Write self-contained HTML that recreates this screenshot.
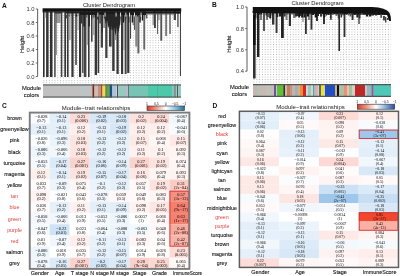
<!DOCTYPE html>
<html><head><meta charset="utf-8"><style>
html,body{margin:0;padding:0;background:#fff;width:400px;height:276px;overflow:hidden;}
svg{display:block;font-family:"Liberation Sans", sans-serif;will-change:transform;}
</style></head><body>
<svg width="400" height="276" viewBox="0 0 400 276" font-family='"Liberation Sans", sans-serif'>
<rect x="0.00" y="0.00" width="400.00" height="276.00" fill="#ffffff" />
<text x="2.00" y="7.90" font-size="6.6" text-anchor="start" fill="#111" font-weight="bold" >A</text>
<text x="109.00" y="6.70" font-size="5.8" text-anchor="middle" fill="#222" font-weight="normal" >Cluster Dendrogram</text>
<line x1="37.60" y1="9.00" x2="37.60" y2="76.50" stroke="#6a6a6a" stroke-width="1.1"/>
<line x1="35.80" y1="9.00" x2="37.60" y2="9.00" stroke="#555" stroke-width="0.9"/>
<text x="34.60" y="11.10" font-size="5.8" text-anchor="end" fill="#333" font-weight="normal" >1.0</text>
<line x1="35.80" y1="22.50" x2="37.60" y2="22.50" stroke="#555" stroke-width="0.9"/>
<text x="34.60" y="24.60" font-size="5.8" text-anchor="end" fill="#333" font-weight="normal" >0.8</text>
<line x1="35.80" y1="36.00" x2="37.60" y2="36.00" stroke="#555" stroke-width="0.9"/>
<text x="34.60" y="38.10" font-size="5.8" text-anchor="end" fill="#333" font-weight="normal" >0.6</text>
<line x1="35.80" y1="49.50" x2="37.60" y2="49.50" stroke="#555" stroke-width="0.9"/>
<text x="34.60" y="51.60" font-size="5.8" text-anchor="end" fill="#333" font-weight="normal" >0.4</text>
<line x1="35.80" y1="63.00" x2="37.60" y2="63.00" stroke="#555" stroke-width="0.9"/>
<text x="34.60" y="65.10" font-size="5.8" text-anchor="end" fill="#333" font-weight="normal" >0.2</text>
<line x1="35.80" y1="76.50" x2="37.60" y2="76.50" stroke="#555" stroke-width="0.9"/>
<text x="34.60" y="78.60" font-size="5.8" text-anchor="end" fill="#333" font-weight="normal" >0.0</text>
<text x="24.0" y="44.4" font-size="5.9" text-anchor="middle" fill="#222" stroke="#222" stroke-width="0.12" transform="rotate(-90 24.0 44.4)">Height</text>
<pattern id="p18" x="43.30" y="12.40" width="2.8" height="2.5" patternUnits="userSpaceOnUse"><rect x="0" y="0" width="0.9" height="0.9" fill="#b4b4b4"/></pattern>
<rect x="43.00" y="12.00" width="138.00" height="72.00" fill="url(#p18)" />
<rect x="43.00" y="10.00" width="1.60" height="67.00" fill="#303030" />
<rect x="44.80" y="10.00" width="1.20" height="8.00" fill="#bbb" />
<rect x="46.10" y="10.00" width="2.50" height="67.00" fill="#363636" />
<rect x="50.00" y="10.00" width="2.50" height="67.00" fill="#303030" />
<rect x="54.00" y="10.00" width="1.80" height="67.00" fill="#666" />
<rect x="56.20" y="10.00" width="4.20" height="13.00" fill="#999" />
<rect x="55.80" y="10.00" width="0.80" height="45.00" fill="#555" />
<rect x="60.80" y="10.00" width="1.60" height="67.00" fill="#444" />
<rect x="64.30" y="10.00" width="1.70" height="67.00" fill="#363636" />
<rect x="67.00" y="10.00" width="1.60" height="67.00" fill="#3a3a3a" />
<rect x="69.20" y="10.00" width="1.40" height="30.00" fill="#999" />
<rect x="71.40" y="10.00" width="2.20" height="67.00" fill="#363636" />
<rect x="75.20" y="10.00" width="1.60" height="55.00" fill="#444" />
<rect x="77.40" y="10.00" width="1.20" height="20.00" fill="#aaa" />
<rect x="79.00" y="10.00" width="2.20" height="67.00" fill="#363636" />
<rect x="82.00" y="10.00" width="1.60" height="63.00" fill="#555" />
<rect x="83.80" y="10.00" width="2.60" height="67.00" fill="#444" />
<rect x="86.60" y="10.00" width="1.20" height="35.00" fill="#999" />
<rect x="88.00" y="10.00" width="1.60" height="67.00" fill="#3a3a3a" />
<rect x="91.00" y="10.00" width="1.60" height="31.70" fill="#444" />
<rect x="92.80" y="10.00" width="1.60" height="25.00" fill="#aaa" />
<rect x="94.70" y="10.00" width="2.30" height="65.00" fill="#363636" />
<rect x="97.60" y="10.00" width="1.60" height="63.00" fill="#3a3a3a" />
<rect x="100.70" y="10.00" width="2.30" height="37.60" fill="#444" />
<rect x="103.20" y="10.00" width="1.80" height="18.00" fill="#999" />
<rect x="105.20" y="10.00" width="2.30" height="48.00" fill="#444" />
<rect x="109.00" y="10.00" width="2.60" height="36.60" fill="#3a3a3a" />
<rect x="112.20" y="10.00" width="2.40" height="61.00" fill="#363636" />
<rect x="115.00" y="10.00" width="1.20" height="30.00" fill="#999" />
<rect x="116.50" y="10.00" width="2.20" height="64.00" fill="#363636" />
<rect x="119.20" y="10.00" width="1.40" height="15.00" fill="#aaa" />
<rect x="121.00" y="10.00" width="2.20" height="64.00" fill="#3a3a3a" />
<rect x="123.40" y="10.00" width="1.00" height="40.00" fill="#999" />
<rect x="124.70" y="10.00" width="1.90" height="64.00" fill="#444" />
<rect x="127.20" y="10.00" width="2.20" height="63.00" fill="#363636" />
<rect x="130.00" y="10.00" width="1.10" height="28.80" fill="#444" />
<rect x="131.10" y="10.00" width="1.50" height="4.00" fill="#555" />
<rect x="132.60" y="10.00" width="1.50" height="15.00" fill="#888" />
<rect x="134.10" y="10.00" width="1.15" height="20.00" fill="#444" />
<rect x="135.25" y="10.00" width="2.15" height="36.60" fill="#888" />
<rect x="137.40" y="10.00" width="2.00" height="43.40" fill="#666" />
<rect x="140.10" y="10.00" width="1.15" height="10.00" fill="#888" />
<rect x="143.30" y="10.00" width="1.90" height="39.50" fill="#666" />
<rect x="152.50" y="10.00" width="1.50" height="15.00" fill="#999" />
<rect x="154.00" y="10.00" width="1.90" height="18.00" fill="#444" />
<rect x="157.00" y="10.00" width="1.10" height="24.00" fill="#666" />
<rect x="158.10" y="10.00" width="1.50" height="10.00" fill="#999" />
<rect x="160.30" y="10.00" width="1.90" height="30.70" fill="#555" />
<rect x="165.20" y="10.00" width="1.90" height="26.00" fill="#777" />
<rect x="169.00" y="10.00" width="2.00" height="24.00" fill="#888" />
<rect x="173.70" y="10.00" width="2.30" height="10.00" fill="#444" />
<rect x="177.00" y="10.00" width="1.80" height="17.00" fill="#777" />
<rect x="179.90" y="10.00" width="1.10" height="66.00" fill="#444" />
<rect x="42.60" y="8.30" width="138.60" height="3.40" fill="#111" />
<rect x="42.60" y="11.50" width="88.00" height="1.00" fill="#2a2a2a" />
<rect x="130.00" y="11.50" width="51.00" height="2.20" fill="#1a1a1a" />
<rect x="145.00" y="13.50" width="30.00" height="1.00" fill="#555" />
<rect x="66.00" y="11.50" width="14.00" height="2.00" fill="#222" />
<rect x="80.00" y="11.50" width="66.00" height="3.50" fill="#1a1a1a" />
<rect x="55.00" y="11.50" width="7.00" height="2.00" fill="#333" />
<rect x="66.00" y="14.50" width="1.31" height="4.00" fill="#555" />
<rect x="68.31" y="14.50" width="1.43" height="2.00" fill="#555" />
<rect x="70.87" y="14.50" width="1.61" height="1.00" fill="#555" />
<rect x="73.29" y="14.50" width="0.98" height="1.00" fill="#555" />
<rect x="75.74" y="14.50" width="1.49" height="2.00" fill="#1a1a1a" />
<rect x="78.56" y="14.50" width="0.96" height="1.00" fill="#222" />
<rect x="80.89" y="14.50" width="1.44" height="9.00" fill="#333" />
<rect x="83.27" y="14.50" width="1.66" height="12.00" fill="#222" />
<rect x="86.07" y="14.50" width="1.35" height="3.00" fill="#555" />
<rect x="88.58" y="14.50" width="1.27" height="12.00" fill="#1a1a1a" />
<rect x="91.05" y="14.50" width="1.18" height="5.00" fill="#333" />
<rect x="92.76" y="14.50" width="1.41" height="3.00" fill="#555" />
<rect x="94.78" y="14.50" width="1.16" height="3.00" fill="#1a1a1a" />
<rect x="97.29" y="14.50" width="0.90" height="5.00" fill="#1a1a1a" />
<rect x="99.16" y="14.50" width="1.78" height="9.00" fill="#555" />
<rect x="101.51" y="14.50" width="1.47" height="18.00" fill="#333" />
<rect x="103.82" y="14.50" width="1.18" height="4.00" fill="#555" />
<rect x="106.26" y="14.50" width="1.01" height="6.00" fill="#1a1a1a" />
<rect x="107.77" y="14.50" width="1.32" height="12.00" fill="#222" />
<rect x="110.27" y="14.50" width="1.07" height="15.00" fill="#222" />
<rect x="112.83" y="14.50" width="1.59" height="12.00" fill="#555" />
<rect x="115.04" y="14.50" width="1.28" height="6.00" fill="#1a1a1a" />
<rect x="117.09" y="14.50" width="1.77" height="15.00" fill="#333" />
<rect x="120.36" y="14.50" width="0.92" height="2.00" fill="#555" />
<rect x="122.77" y="14.50" width="1.44" height="8.00" fill="#1a1a1a" />
<rect x="124.75" y="14.50" width="1.03" height="6.00" fill="#333" />
<rect x="126.30" y="14.50" width="1.45" height="4.00" fill="#555" />
<rect x="128.32" y="14.50" width="0.98" height="8.00" fill="#222" />
<rect x="129.82" y="14.50" width="1.23" height="8.00" fill="#555" />
<rect x="131.67" y="14.50" width="1.43" height="8.00" fill="#222" />
<rect x="134.47" y="14.50" width="1.06" height="2.00" fill="#333" />
<rect x="136.94" y="14.50" width="1.64" height="2.00" fill="#222" />
<rect x="139.24" y="14.50" width="1.47" height="8.00" fill="#222" />
<rect x="141.89" y="14.50" width="1.25" height="6.00" fill="#1a1a1a" />
<rect x="144.06" y="14.50" width="0.99" height="1.00" fill="#333" />
<rect x="145.79" y="14.50" width="1.53" height="4.00" fill="#555" />
<path d="M104,14 L121,14 L120,24 L118.5,33 L117,26 L115.5,36 L114,27 L112,31 L110.5,22 L109,29 L107,20 L105.5,24 Z" fill="#262626"/>
<rect x="97.40" y="12.60" width="0.90" height="4.00" fill="#f0f0f0" />
<rect x="104.60" y="12.60" width="0.90" height="4.00" fill="#f0f0f0" />
<rect x="115.60" y="12.60" width="0.90" height="4.00" fill="#f0f0f0" />
<rect x="120.00" y="12.60" width="0.90" height="4.00" fill="#f0f0f0" />
<rect x="125.40" y="12.60" width="0.90" height="4.00" fill="#f0f0f0" />
<rect x="129.00" y="12.60" width="0.90" height="4.00" fill="#f0f0f0" />
<rect x="134.00" y="12.60" width="0.90" height="4.00" fill="#f0f0f0" />
<rect x="140.60" y="12.60" width="0.90" height="4.00" fill="#f0f0f0" />
<text x="31.50" y="90.00" font-size="5.8" text-anchor="middle" fill="#151515" font-weight="normal" stroke="#151515" stroke-width="0.1">Module</text>
<text x="31.50" y="96.70" font-size="5.8" text-anchor="middle" fill="#151515" font-weight="normal" stroke="#151515" stroke-width="0.1">colors</text>
<rect x="43.00" y="84.40" width="138.00" height="13.20" fill="#c0c0c0" />
<rect x="43.00" y="84.40" width="37.00" height="13.20" fill="#c0c0c0" />
<rect x="80.00" y="84.40" width="11.00" height="13.20" fill="#bcc4c4" />
<rect x="91.00" y="84.40" width="1.40" height="13.20" fill="#c8b8b8" />
<rect x="92.40" y="84.40" width="2.00" height="13.20" fill="#a33a28" />
<rect x="93.40" y="84.40" width="0.60" height="13.20" fill="#701810" />
<rect x="94.40" y="84.40" width="3.60" height="13.20" fill="#c4c0b8" />
<rect x="98.00" y="84.40" width="3.00" height="13.20" fill="#d48a80" />
<rect x="101.00" y="84.40" width="1.40" height="13.20" fill="#a05030" />
<rect x="102.40" y="84.40" width="3.20" height="13.20" fill="#f0d848" />
<rect x="105.60" y="84.40" width="1.00" height="13.20" fill="#304848" />
<rect x="106.60" y="84.40" width="3.00" height="13.20" fill="#58a840" />
<rect x="109.60" y="84.40" width="2.80" height="13.20" fill="#204c88" />
<rect x="112.40" y="84.40" width="1.00" height="13.20" fill="#d0d8e0" />
<rect x="113.40" y="84.40" width="2.60" height="13.20" fill="#a8c0e0" />
<rect x="116.00" y="84.40" width="1.00" height="13.20" fill="#d0d0d0" />
<rect x="117.00" y="84.40" width="1.00" height="13.20" fill="#405050" />
<rect x="118.00" y="84.40" width="8.00" height="13.20" fill="#98c8c0" />
<rect x="126.00" y="84.40" width="2.00" height="13.20" fill="#c0b8c8" />
<rect x="128.00" y="84.40" width="0.80" height="13.20" fill="#3a5050" />
<rect x="128.80" y="84.40" width="19.20" height="13.20" fill="#78c4b4" />
<rect x="148.00" y="84.40" width="24.00" height="13.20" fill="#4cc8aa" />
<rect x="157.00" y="84.40" width="1.00" height="13.20" fill="#44b8a0" />
<rect x="172.00" y="84.40" width="2.60" height="13.20" fill="#90c0b8" />
<rect x="174.60" y="84.40" width="1.00" height="13.20" fill="#2a5a50" />
<rect x="175.60" y="84.40" width="1.40" height="13.20" fill="#a0c8c0" />
<rect x="177.00" y="84.40" width="1.00" height="13.20" fill="#406060" />
<rect x="178.00" y="84.40" width="3.00" height="13.20" fill="#98c8c0" />
<line x1="43.00" y1="85.00" x2="181.00" y2="85.00" stroke="#505656" stroke-width="1.2"/>
<line x1="43.00" y1="97.00" x2="181.00" y2="97.00" stroke="#505656" stroke-width="1.2"/>
<text x="212.00" y="7.00" font-size="6.6" text-anchor="start" fill="#111" font-weight="bold" >B</text>
<text x="317.50" y="5.30" font-size="5.8" text-anchor="middle" fill="#222" font-weight="normal" >Cluster Dendrogram</text>
<line x1="247.00" y1="7.00" x2="247.00" y2="71.20" stroke="#6a6a6a" stroke-width="1.1"/>
<line x1="245.20" y1="7.00" x2="247.00" y2="7.00" stroke="#555" stroke-width="0.9"/>
<text x="244.00" y="9.10" font-size="5.8" text-anchor="end" fill="#333" font-weight="normal" >1.0</text>
<line x1="245.20" y1="28.40" x2="247.00" y2="28.40" stroke="#555" stroke-width="0.9"/>
<text x="244.00" y="30.50" font-size="5.8" text-anchor="end" fill="#333" font-weight="normal" >0.8</text>
<line x1="245.20" y1="49.80" x2="247.00" y2="49.80" stroke="#555" stroke-width="0.9"/>
<text x="244.00" y="51.90" font-size="5.8" text-anchor="end" fill="#333" font-weight="normal" >0.6</text>
<line x1="245.20" y1="71.20" x2="247.00" y2="71.20" stroke="#555" stroke-width="0.9"/>
<text x="244.00" y="73.30" font-size="5.8" text-anchor="end" fill="#333" font-weight="normal" >0.4</text>
<text x="231.3" y="44.2" font-size="5.9" text-anchor="middle" fill="#222" stroke="#222" stroke-width="0.12" transform="rotate(-90 231.3 44.2)">Height</text>
<pattern id="p169" x="253.50" y="11.60" width="2.8" height="2.5" patternUnits="userSpaceOnUse"><rect x="0" y="0" width="0.9" height="0.9" fill="#b4b4b4"/></pattern>
<rect x="253.00" y="11.00" width="138.00" height="72.00" fill="url(#p169)" />
<rect x="253.00" y="9.00" width="2.60" height="69.50" fill="#333" />
<rect x="253.00" y="9.00" width="2.60" height="36.00" fill="#111" />
<rect x="257.00" y="9.00" width="2.40" height="48.00" fill="#222" />
<rect x="260.00" y="9.00" width="2.00" height="11.00" fill="#777" />
<rect x="263.00" y="9.00" width="2.00" height="22.00" fill="#555" />
<rect x="266.00" y="9.00" width="2.00" height="11.00" fill="#777" />
<rect x="268.80" y="9.00" width="1.80" height="9.00" fill="#888" />
<rect x="272.00" y="9.00" width="2.40" height="15.60" fill="#333" />
<rect x="275.60" y="9.00" width="1.90" height="24.00" fill="#333" />
<rect x="281.00" y="9.00" width="2.80" height="29.00" fill="#222" />
<rect x="285.60" y="9.00" width="1.90" height="11.00" fill="#777" />
<rect x="288.80" y="9.00" width="2.20" height="17.00" fill="#333" />
<rect x="293.00" y="9.00" width="2.60" height="9.00" fill="#777" />
<rect x="296.00" y="9.00" width="2.00" height="7.00" fill="#333" />
<rect x="298.00" y="9.00" width="3.00" height="7.00" fill="#333" />
<rect x="302.40" y="9.00" width="1.20" height="13.00" fill="#888" />
<rect x="305.00" y="9.00" width="1.80" height="25.00" fill="#333" />
<rect x="308.00" y="9.00" width="2.00" height="11.00" fill="#888" />
<rect x="310.50" y="9.00" width="1.90" height="20.60" fill="#333" />
<rect x="316.00" y="9.00" width="2.00" height="12.00" fill="#333" />
<rect x="320.00" y="9.00" width="2.00" height="8.00" fill="#777" />
<rect x="323.00" y="9.00" width="2.00" height="15.00" fill="#333" />
<rect x="330.00" y="9.00" width="2.00" height="11.00" fill="#777" />
<rect x="335.50" y="9.00" width="1.90" height="7.00" fill="#777" />
<rect x="338.40" y="9.00" width="1.60" height="42.00" fill="#2a2a2a" />
<rect x="343.60" y="9.00" width="1.80" height="28.00" fill="#333" />
<rect x="346.00" y="9.00" width="2.50" height="5.00" fill="#222" />
<rect x="351.60" y="9.00" width="1.90" height="11.00" fill="#333" />
<rect x="358.00" y="9.00" width="2.00" height="15.00" fill="#777" />
<rect x="366.60" y="9.00" width="1.40" height="7.00" fill="#888" />
<rect x="371.00" y="9.00" width="1.20" height="7.00" fill="#888" />
<rect x="374.00" y="9.00" width="2.00" height="5.00" fill="#666" />
<path d="M252.8,7.0 L372,7.0 Q386,7.6 389.6,13 Q391,16 391,21 L389.2,21 L387,15 L252.8,13 Z" fill="#111"/>
<rect x="252.80" y="11.00" width="125.00" height="1.60" fill="#1a1a1a" />
<rect x="253.00" y="12.00" width="1.45" height="3.00" fill="#333" />
<rect x="255.34" y="12.00" width="1.10" height="6.50" fill="#111" />
<rect x="257.07" y="12.00" width="1.08" height="6.50" fill="#1a1a1a" />
<rect x="258.48" y="12.00" width="1.61" height="2.50" fill="#1a1a1a" />
<rect x="260.47" y="12.00" width="1.59" height="2.50" fill="#1a1a1a" />
<rect x="262.94" y="12.00" width="1.82" height="2.00" fill="#555" />
<rect x="265.58" y="12.00" width="1.07" height="3.50" fill="#111" />
<rect x="267.45" y="12.00" width="1.19" height="5.00" fill="#1a1a1a" />
<rect x="269.42" y="12.00" width="1.80" height="6.50" fill="#1a1a1a" />
<rect x="271.61" y="12.00" width="1.80" height="3.50" fill="#222" />
<rect x="273.80" y="12.00" width="2.00" height="2.00" fill="#555" />
<rect x="276.28" y="12.00" width="1.95" height="5.00" fill="#222" />
<rect x="278.96" y="12.00" width="2.29" height="4.50" fill="#222" />
<rect x="281.77" y="12.00" width="1.25" height="3.50" fill="#111" />
<rect x="283.84" y="12.00" width="1.74" height="4.50" fill="#333" />
<rect x="286.13" y="12.00" width="2.37" height="2.50" fill="#555" />
<rect x="289.18" y="12.00" width="2.06" height="3.00" fill="#333" />
<rect x="291.92" y="12.00" width="2.35" height="2.50" fill="#555" />
<rect x="295.09" y="12.00" width="2.23" height="4.50" fill="#222" />
<rect x="298.24" y="12.00" width="1.83" height="5.50" fill="#111" />
<rect x="301.12" y="12.00" width="2.32" height="5.50" fill="#111" />
<rect x="303.80" y="12.00" width="1.98" height="5.50" fill="#222" />
<rect x="306.73" y="12.00" width="2.24" height="4.50" fill="#111" />
<rect x="310.12" y="12.00" width="1.50" height="2.50" fill="#333" />
<rect x="311.97" y="12.00" width="2.08" height="3.00" fill="#1a1a1a" />
<rect x="314.70" y="12.00" width="2.28" height="5.50" fill="#111" />
<rect x="317.44" y="12.00" width="1.56" height="4.00" fill="#1a1a1a" />
<rect x="320.03" y="12.00" width="2.21" height="4.00" fill="#333" />
<rect x="323.43" y="12.00" width="1.96" height="5.00" fill="#1a1a1a" />
<rect x="325.82" y="12.00" width="1.25" height="3.50" fill="#1a1a1a" />
<rect x="327.38" y="12.00" width="2.16" height="3.00" fill="#222" />
<rect x="330.10" y="12.00" width="1.20" height="6.50" fill="#222" />
<rect x="332.15" y="12.00" width="1.45" height="3.00" fill="#555" />
<rect x="334.75" y="12.00" width="1.92" height="2.00" fill="#333" />
<rect x="337.78" y="12.00" width="2.09" height="6.50" fill="#333" />
<rect x="340.53" y="12.00" width="1.55" height="5.50" fill="#333" />
<rect x="342.44" y="12.00" width="1.09" height="3.50" fill="#333" />
<rect x="343.98" y="12.00" width="1.48" height="2.00" fill="#111" />
<rect x="345.75" y="12.00" width="1.21" height="2.50" fill="#222" />
<rect x="347.82" y="12.00" width="1.10" height="3.50" fill="#555" />
<rect x="349.56" y="12.00" width="1.89" height="4.50" fill="#555" />
<rect x="352.07" y="12.00" width="1.17" height="5.50" fill="#333" />
<rect x="353.98" y="12.00" width="1.44" height="3.00" fill="#111" />
<rect x="356.39" y="12.00" width="2.04" height="5.50" fill="#1a1a1a" />
<rect x="359.19" y="12.00" width="1.29" height="6.50" fill="#222" />
<rect x="360.91" y="12.00" width="1.76" height="2.00" fill="#555" />
<rect x="363.24" y="12.00" width="1.90" height="2.50" fill="#222" />
<rect x="365.90" y="12.00" width="2.27" height="4.50" fill="#1a1a1a" />
<rect x="368.95" y="12.00" width="2.09" height="4.50" fill="#1a1a1a" />
<rect x="371.90" y="12.00" width="2.10" height="3.50" fill="#1a1a1a" />
<rect x="375.04" y="12.00" width="2.04" height="3.50" fill="#1a1a1a" />
<rect x="377.84" y="13.01" width="1.50" height="2.00" fill="#111" />
<rect x="380.35" y="14.39" width="1.66" height="3.50" fill="#555" />
<rect x="383.17" y="15.94" width="1.63" height="4.50" fill="#222" />
<rect x="385.17" y="17.04" width="1.14" height="5.50" fill="#1a1a1a" />
<rect x="386.91" y="18.00" width="1.68" height="2.00" fill="#333" />
<rect x="252.80" y="11.00" width="123.00" height="2.00" fill="#111" />
<text x="239.40" y="88.90" font-size="5.8" text-anchor="middle" fill="#151515" font-weight="normal" stroke="#151515" stroke-width="0.1">Module</text>
<text x="239.40" y="95.80" font-size="5.8" text-anchor="middle" fill="#151515" font-weight="normal" stroke="#151515" stroke-width="0.1">colors</text>
<rect x="253.00" y="84.00" width="138.00" height="13.00" fill="#c0c0c0" />
<rect x="253.00" y="84.00" width="4.00" height="13.00" fill="#c4b4b4" />
<rect x="257.00" y="84.00" width="4.00" height="13.00" fill="#b8c0b0" />
<rect x="261.00" y="84.00" width="5.00" height="13.00" fill="#c8b8b8" />
<rect x="266.00" y="84.00" width="4.00" height="13.00" fill="#bcc4b4" />
<rect x="270.00" y="84.00" width="4.00" height="13.00" fill="#c4bcb8" />
<rect x="274.00" y="84.00" width="2.00" height="13.00" fill="#7050a0" />
<rect x="276.00" y="84.00" width="1.00" height="13.00" fill="#c8c8c8" />
<rect x="277.00" y="84.00" width="6.40" height="13.00" fill="#60c030" />
<rect x="283.40" y="84.00" width="1.60" height="13.00" fill="#203050" />
<rect x="285.00" y="84.00" width="2.00" height="13.00" fill="#e0b890" />
<rect x="287.00" y="84.00" width="3.40" height="13.00" fill="#c08060" />
<rect x="290.40" y="84.00" width="1.60" height="13.00" fill="#c09080" />
<rect x="292.00" y="84.00" width="1.00" height="13.00" fill="#b8b8b8" />
<rect x="293.00" y="84.00" width="2.00" height="13.00" fill="#d0b0a0" />
<rect x="295.00" y="84.00" width="3.00" height="13.00" fill="#a0b0b8" />
<rect x="298.00" y="84.00" width="2.00" height="13.00" fill="#d8b080" />
<rect x="300.00" y="84.00" width="3.00" height="13.00" fill="#e89040" />
<rect x="303.00" y="84.00" width="3.00" height="13.00" fill="#e02020" />
<rect x="306.00" y="84.00" width="2.00" height="13.00" fill="#c0e0e0" />
<rect x="308.00" y="84.00" width="3.00" height="13.00" fill="#a0c8b8" />
<rect x="311.00" y="84.00" width="2.00" height="13.00" fill="#d0d8d0" />
<rect x="313.00" y="84.00" width="1.00" height="13.00" fill="#60a090" />
<rect x="314.00" y="84.00" width="2.00" height="13.00" fill="#b0b8b8" />
<rect x="316.00" y="84.00" width="2.00" height="13.00" fill="#e0b0b0" />
<rect x="318.00" y="84.00" width="1.00" height="13.00" fill="#d0d0d0" />
<rect x="319.00" y="84.00" width="2.00" height="13.00" fill="#606868" />
<rect x="321.00" y="84.00" width="3.00" height="13.00" fill="#f0e030" />
<rect x="324.00" y="84.00" width="1.00" height="13.00" fill="#d0d0c0" />
<rect x="325.00" y="84.00" width="10.00" height="13.00" fill="#2050c0" />
<rect x="335.00" y="84.00" width="2.00" height="13.00" fill="#d0b090" />
<rect x="337.00" y="84.00" width="2.00" height="13.00" fill="#101010" />
<rect x="339.00" y="84.00" width="5.00" height="13.00" fill="#b0c0a8" />
<rect x="344.00" y="84.00" width="3.00" height="13.00" fill="#f09070" />
<rect x="347.00" y="84.00" width="2.00" height="13.00" fill="#e0c8b8" />
<rect x="349.00" y="84.00" width="3.00" height="13.00" fill="#a8c0a0" />
<rect x="352.00" y="84.00" width="3.00" height="13.00" fill="#d0d0c8" />
<rect x="355.00" y="84.00" width="10.00" height="13.00" fill="#c02828" />
<rect x="365.00" y="84.00" width="2.00" height="13.00" fill="#c8c8c8" />
<rect x="367.00" y="84.00" width="4.00" height="13.00" fill="#90b8c0" />
<rect x="371.00" y="84.00" width="1.00" height="13.00" fill="#909898" />
<rect x="372.00" y="84.00" width="1.60" height="13.00" fill="#a050a0" />
<rect x="373.60" y="84.00" width="17.40" height="13.00" fill="#50c8b8" />
<line x1="253.00" y1="84.60" x2="391.00" y2="84.60" stroke="#505656" stroke-width="1.2"/>
<line x1="253.00" y1="96.40" x2="391.00" y2="96.40" stroke="#505656" stroke-width="1.2"/>
<text x="2.00" y="108.30" font-size="6.6" text-anchor="start" fill="#111" font-weight="bold" >C</text>
<rect x="29.75" y="112.60" width="19.96" height="11.16" fill="#fafcfe" />
<rect x="49.71" y="112.60" width="19.96" height="11.16" fill="#e2eef9" />
<rect x="69.66" y="112.60" width="19.96" height="11.16" fill="#fcdbd6" />
<rect x="89.62" y="112.60" width="19.96" height="11.16" fill="#d6e7f7" />
<rect x="109.58" y="112.60" width="19.96" height="11.16" fill="#d8e8f7" />
<rect x="129.53" y="112.60" width="19.96" height="11.16" fill="#fde1dd" />
<rect x="149.49" y="112.60" width="19.96" height="11.16" fill="#fcd9d4" />
<rect x="169.44" y="112.60" width="19.96" height="11.16" fill="#f2f7fc" />
<rect x="29.75" y="123.76" width="19.96" height="11.16" fill="#e4effa" />
<rect x="49.71" y="123.76" width="19.96" height="11.16" fill="#e4effa" />
<rect x="69.66" y="123.76" width="19.96" height="11.16" fill="#feefed" />
<rect x="89.62" y="123.76" width="19.96" height="11.16" fill="#e4effa" />
<rect x="109.58" y="123.76" width="19.96" height="11.16" fill="#d6e7f7" />
<rect x="129.53" y="123.76" width="19.96" height="11.16" fill="#feefed" />
<rect x="149.49" y="123.76" width="19.96" height="11.16" fill="#feefed" />
<rect x="169.44" y="123.76" width="19.96" height="11.16" fill="#f7fbfe" />
<rect x="29.75" y="134.93" width="19.96" height="11.16" fill="#fafcfe" />
<rect x="49.71" y="134.93" width="19.96" height="11.16" fill="#ecf4fb" />
<rect x="69.66" y="134.93" width="19.96" height="11.16" fill="#fde5e1" />
<rect x="89.62" y="134.93" width="19.96" height="11.16" fill="#e4effa" />
<rect x="109.58" y="134.93" width="19.96" height="11.16" fill="#e6f0fa" />
<rect x="129.53" y="134.93" width="19.96" height="11.16" fill="#fdeae7" />
<rect x="149.49" y="134.93" width="19.96" height="11.16" fill="#fef7f6" />
<rect x="169.44" y="134.93" width="19.96" height="11.16" fill="#fdeae7" />
<rect x="29.75" y="146.09" width="19.96" height="11.16" fill="#eef5fc" />
<rect x="49.71" y="146.09" width="19.96" height="11.16" fill="#f2f7fc" />
<rect x="69.66" y="146.09" width="19.96" height="11.16" fill="#fde5e1" />
<rect x="89.62" y="146.09" width="19.96" height="11.16" fill="#e6f0fa" />
<rect x="109.58" y="146.09" width="19.96" height="11.16" fill="#e6f0fa" />
<rect x="129.53" y="146.09" width="19.96" height="11.16" fill="#fef1ef" />
<rect x="149.49" y="146.09" width="19.96" height="11.16" fill="#fef2f1" />
<rect x="169.44" y="146.09" width="19.96" height="11.16" fill="#fef4f2" />
<rect x="29.75" y="157.26" width="19.96" height="11.16" fill="#f5f9fd" />
<rect x="49.71" y="157.26" width="19.96" height="11.16" fill="#dbeaf8" />
<rect x="69.66" y="157.26" width="19.96" height="11.16" fill="#fbd3cd" />
<rect x="89.62" y="157.26" width="19.96" height="11.16" fill="#ddebf8" />
<rect x="109.58" y="157.26" width="19.96" height="11.16" fill="#e2eef9" />
<rect x="129.53" y="157.26" width="19.96" height="11.16" fill="#fbd3cd" />
<rect x="149.49" y="157.26" width="19.96" height="11.16" fill="#fde3df" />
<rect x="169.44" y="157.26" width="19.96" height="11.16" fill="#fef6f5" />
<rect x="29.75" y="168.42" width="19.96" height="11.16" fill="#feefed" />
<rect x="49.71" y="168.42" width="19.96" height="11.16" fill="#e2eef9" />
<rect x="69.66" y="168.42" width="19.96" height="11.16" fill="#fde3df" />
<rect x="89.62" y="168.42" width="19.96" height="11.16" fill="#dfecf9" />
<rect x="109.58" y="168.42" width="19.96" height="11.16" fill="#dbeaf8" />
<rect x="129.53" y="168.42" width="19.96" height="11.16" fill="#fde8e5" />
<rect x="149.49" y="168.42" width="19.96" height="11.16" fill="#fef6f4" />
<rect x="169.44" y="168.42" width="19.96" height="11.16" fill="#fef3f2" />
<rect x="29.75" y="179.59" width="19.96" height="11.16" fill="#fffcfb" />
<rect x="49.71" y="179.59" width="19.96" height="11.16" fill="#edf4fb" />
<rect x="69.66" y="179.59" width="19.96" height="11.16" fill="#fef6f5" />
<rect x="89.62" y="179.59" width="19.96" height="11.16" fill="#ebf3fb" />
<rect x="109.58" y="179.59" width="19.96" height="11.16" fill="#e6f0fa" />
<rect x="129.53" y="179.59" width="19.96" height="11.16" fill="#fef9f8" />
<rect x="149.49" y="179.59" width="19.96" height="11.16" fill="#fde3df" />
<rect x="169.44" y="179.59" width="19.96" height="11.16" fill="#fbcbc4" />
<rect x="29.75" y="190.75" width="19.96" height="11.16" fill="#fef3f1" />
<rect x="49.71" y="190.75" width="19.96" height="11.16" fill="#fbfdfe" />
<rect x="69.66" y="190.75" width="19.96" height="11.16" fill="#fffbfa" />
<rect x="89.62" y="190.75" width="19.96" height="11.16" fill="#f0f6fc" />
<rect x="109.58" y="190.75" width="19.96" height="11.16" fill="#fef8f8" />
<rect x="129.53" y="190.75" width="19.96" height="11.16" fill="#fffaf9" />
<rect x="149.49" y="190.75" width="19.96" height="11.16" fill="#fef5f4" />
<rect x="169.44" y="190.75" width="19.96" height="11.16" fill="#f69081" />
<rect x="29.75" y="201.91" width="19.96" height="11.16" fill="#fffbfb" />
<rect x="49.71" y="201.91" width="19.96" height="11.16" fill="#e6f0fa" />
<rect x="69.66" y="201.91" width="19.96" height="11.16" fill="#fef1ef" />
<rect x="89.62" y="201.91" width="19.96" height="11.16" fill="#e4effa" />
<rect x="109.58" y="201.91" width="19.96" height="11.16" fill="#e2eef9" />
<rect x="129.53" y="201.91" width="19.96" height="11.16" fill="#fef3f1" />
<rect x="149.49" y="201.91" width="19.96" height="11.16" fill="#fde6e3" />
<rect x="169.44" y="201.91" width="19.96" height="11.16" fill="#f57e6d" />
<rect x="29.75" y="213.08" width="19.96" height="11.16" fill="#f4f8fd" />
<rect x="49.71" y="213.08" width="19.96" height="11.16" fill="#f2f7fc" />
<rect x="69.66" y="213.08" width="19.96" height="11.16" fill="#fffefe" />
<rect x="89.62" y="213.08" width="19.96" height="11.16" fill="#f5f9fd" />
<rect x="109.58" y="213.08" width="19.96" height="11.16" fill="#eef5fc" />
<rect x="129.53" y="213.08" width="19.96" height="11.16" fill="#ffffff" />
<rect x="149.49" y="213.08" width="19.96" height="11.16" fill="#fef7f6" />
<rect x="169.44" y="213.08" width="19.96" height="11.16" fill="#f58170" />
<rect x="29.75" y="224.24" width="19.96" height="11.16" fill="#f6fafd" />
<rect x="49.71" y="224.24" width="19.96" height="11.16" fill="#cfe3f6" />
<rect x="69.66" y="224.24" width="19.96" height="11.16" fill="#fffdfd" />
<rect x="89.62" y="224.24" width="19.96" height="11.16" fill="#f3f8fd" />
<rect x="109.58" y="224.24" width="19.96" height="11.16" fill="#edf5fc" />
<rect x="129.53" y="224.24" width="19.96" height="11.16" fill="#f3f8fd" />
<rect x="149.49" y="224.24" width="19.96" height="11.16" fill="#fffaf9" />
<rect x="169.44" y="224.24" width="19.96" height="11.16" fill="#f8aa9e" />
<rect x="29.75" y="235.41" width="19.96" height="11.16" fill="#fffefe" />
<rect x="49.71" y="235.41" width="19.96" height="11.16" fill="#f1f7fc" />
<rect x="69.66" y="235.41" width="19.96" height="11.16" fill="#feefed" />
<rect x="89.62" y="235.41" width="19.96" height="11.16" fill="#e9f2fb" />
<rect x="109.58" y="235.41" width="19.96" height="11.16" fill="#e4effa" />
<rect x="129.53" y="235.41" width="19.96" height="11.16" fill="#fef5f4" />
<rect x="149.49" y="235.41" width="19.96" height="11.16" fill="#fffbfa" />
<rect x="169.44" y="235.41" width="19.96" height="11.16" fill="#f9b3a9" />
<rect x="29.75" y="246.57" width="19.96" height="11.16" fill="#eef5fc" />
<rect x="49.71" y="246.57" width="19.96" height="11.16" fill="#fffefe" />
<rect x="69.66" y="246.57" width="19.96" height="11.16" fill="#fffcfb" />
<rect x="89.62" y="246.57" width="19.96" height="11.16" fill="#e6f0fa" />
<rect x="109.58" y="246.57" width="19.96" height="11.16" fill="#dfecf9" />
<rect x="129.53" y="246.57" width="19.96" height="11.16" fill="#fffefe" />
<rect x="149.49" y="246.57" width="19.96" height="11.16" fill="#fffdfc" />
<rect x="169.44" y="246.57" width="19.96" height="11.16" fill="#fcdbd6" />
<rect x="29.75" y="257.74" width="19.96" height="11.16" fill="#f0f6fc" />
<rect x="49.71" y="257.74" width="19.96" height="11.16" fill="#ddebf8" />
<rect x="69.66" y="257.74" width="19.96" height="11.16" fill="#fbd3cd" />
<rect x="89.62" y="257.74" width="19.96" height="11.16" fill="#d4e5f6" />
<rect x="109.58" y="257.74" width="19.96" height="11.16" fill="#dbeaf8" />
<rect x="129.53" y="257.74" width="19.96" height="11.16" fill="#fbd1cb" />
<rect x="149.49" y="257.74" width="19.96" height="11.16" fill="#fcd7d2" />
<rect x="169.44" y="257.74" width="19.96" height="11.16" fill="#fef8f7" />
<text transform="translate(41.33,117.98) scale(0.95,1)" font-size="4.6" text-anchor="middle" fill="#000000" font-family="Liberation Serif, serif">−0.028</text>
<text transform="translate(41.33,121.98) scale(0.95,1)" font-size="4.6" text-anchor="middle" fill="#000000" font-family="Liberation Serif, serif">(0.7)</text>
<text transform="translate(61.28,117.98) scale(0.95,1)" font-size="4.6" text-anchor="middle" fill="#000000" font-family="Liberation Serif, serif">−0.14</text>
<text transform="translate(61.28,121.98) scale(0.95,1)" font-size="4.6" text-anchor="middle" fill="#000000" font-family="Liberation Serif, serif">(0.1)</text>
<text transform="translate(81.24,117.98) scale(0.95,1)" font-size="4.6" text-anchor="middle" fill="#000000" font-family="Liberation Serif, serif">0.23</text>
<text transform="translate(81.24,121.98) scale(0.95,1)" font-size="4.6" text-anchor="middle" fill="#000000" font-family="Liberation Serif, serif">(0.006)</text>
<text transform="translate(101.20,117.98) scale(0.95,1)" font-size="4.6" text-anchor="middle" fill="#000000" font-family="Liberation Serif, serif">−0.19</text>
<text transform="translate(101.20,121.98) scale(0.95,1)" font-size="4.6" text-anchor="middle" fill="#000000" font-family="Liberation Serif, serif">(0.02)</text>
<text transform="translate(121.15,117.98) scale(0.95,1)" font-size="4.6" text-anchor="middle" fill="#000000" font-family="Liberation Serif, serif">−0.18</text>
<text transform="translate(121.15,121.98) scale(0.95,1)" font-size="4.6" text-anchor="middle" fill="#000000" font-family="Liberation Serif, serif">(0.03)</text>
<text transform="translate(141.11,117.98) scale(0.95,1)" font-size="4.6" text-anchor="middle" fill="#000000" font-family="Liberation Serif, serif">0.2</text>
<text transform="translate(141.11,121.98) scale(0.95,1)" font-size="4.6" text-anchor="middle" fill="#000000" font-family="Liberation Serif, serif">(0.02)</text>
<text transform="translate(161.07,117.98) scale(0.95,1)" font-size="4.6" text-anchor="middle" fill="#000000" font-family="Liberation Serif, serif">0.24</text>
<text transform="translate(161.07,121.98) scale(0.95,1)" font-size="4.6" text-anchor="middle" fill="#000000" font-family="Liberation Serif, serif">(0.004)</text>
<text transform="translate(181.02,117.98) scale(0.95,1)" font-size="4.6" text-anchor="middle" fill="#000000" font-family="Liberation Serif, serif">−0.067</text>
<text transform="translate(181.02,121.98) scale(0.95,1)" font-size="4.6" text-anchor="middle" fill="#000000" font-family="Liberation Serif, serif">(0.4)</text>
<text transform="translate(41.33,129.15) scale(0.95,1)" font-size="4.6" text-anchor="middle" fill="#000000" font-family="Liberation Serif, serif">−0.13</text>
<text transform="translate(41.33,133.15) scale(0.95,1)" font-size="4.6" text-anchor="middle" fill="#000000" font-family="Liberation Serif, serif">(0.1)</text>
<text transform="translate(61.28,129.15) scale(0.95,1)" font-size="4.6" text-anchor="middle" fill="#000000" font-family="Liberation Serif, serif">−0.13</text>
<text transform="translate(61.28,133.15) scale(0.95,1)" font-size="4.6" text-anchor="middle" fill="#000000" font-family="Liberation Serif, serif">(0.1)</text>
<text transform="translate(81.24,129.15) scale(0.95,1)" font-size="4.6" text-anchor="middle" fill="#000000" font-family="Liberation Serif, serif">0.12</text>
<text transform="translate(81.24,133.15) scale(0.95,1)" font-size="4.6" text-anchor="middle" fill="#000000" font-family="Liberation Serif, serif">(0.2)</text>
<text transform="translate(101.20,129.15) scale(0.95,1)" font-size="4.6" text-anchor="middle" fill="#000000" font-family="Liberation Serif, serif">−0.13</text>
<text transform="translate(101.20,133.15) scale(0.95,1)" font-size="4.6" text-anchor="middle" fill="#000000" font-family="Liberation Serif, serif">(0.1)</text>
<text transform="translate(121.15,129.15) scale(0.95,1)" font-size="4.6" text-anchor="middle" fill="#000000" font-family="Liberation Serif, serif">−0.19</text>
<text transform="translate(121.15,133.15) scale(0.95,1)" font-size="4.6" text-anchor="middle" fill="#000000" font-family="Liberation Serif, serif">(0.02)</text>
<text transform="translate(141.11,129.15) scale(0.95,1)" font-size="4.6" text-anchor="middle" fill="#000000" font-family="Liberation Serif, serif">0.12</text>
<text transform="translate(141.11,133.15) scale(0.95,1)" font-size="4.6" text-anchor="middle" fill="#000000" font-family="Liberation Serif, serif">(0.2)</text>
<text transform="translate(161.07,129.15) scale(0.95,1)" font-size="4.6" text-anchor="middle" fill="#000000" font-family="Liberation Serif, serif">0.12</text>
<text transform="translate(161.07,133.15) scale(0.95,1)" font-size="4.6" text-anchor="middle" fill="#000000" font-family="Liberation Serif, serif">(0.2)</text>
<text transform="translate(181.02,129.15) scale(0.95,1)" font-size="4.6" text-anchor="middle" fill="#000000" font-family="Liberation Serif, serif">−0.041</text>
<text transform="translate(181.02,133.15) scale(0.95,1)" font-size="4.6" text-anchor="middle" fill="#000000" font-family="Liberation Serif, serif">(0.6)</text>
<text transform="translate(41.33,140.31) scale(0.95,1)" font-size="4.6" text-anchor="middle" fill="#000000" font-family="Liberation Serif, serif">−0.026</text>
<text transform="translate(41.33,144.31) scale(0.95,1)" font-size="4.6" text-anchor="middle" fill="#000000" font-family="Liberation Serif, serif">(0.8)</text>
<text transform="translate(61.28,140.31) scale(0.95,1)" font-size="4.6" text-anchor="middle" fill="#000000" font-family="Liberation Serif, serif">−0.096</text>
<text transform="translate(61.28,144.31) scale(0.95,1)" font-size="4.6" text-anchor="middle" fill="#000000" font-family="Liberation Serif, serif">(0.3)</text>
<text transform="translate(81.24,140.31) scale(0.95,1)" font-size="4.6" text-anchor="middle" fill="#000000" font-family="Liberation Serif, serif">0.18</text>
<text transform="translate(81.24,144.31) scale(0.95,1)" font-size="4.6" text-anchor="middle" fill="#000000" font-family="Liberation Serif, serif">(0.03)</text>
<text transform="translate(101.20,140.31) scale(0.95,1)" font-size="4.6" text-anchor="middle" fill="#000000" font-family="Liberation Serif, serif">−0.13</text>
<text transform="translate(101.20,144.31) scale(0.95,1)" font-size="4.6" text-anchor="middle" fill="#000000" font-family="Liberation Serif, serif">(0.2)</text>
<text transform="translate(121.15,140.31) scale(0.95,1)" font-size="4.6" text-anchor="middle" fill="#000000" font-family="Liberation Serif, serif">−0.12</text>
<text transform="translate(121.15,144.31) scale(0.95,1)" font-size="4.6" text-anchor="middle" fill="#000000" font-family="Liberation Serif, serif">(0.2)</text>
<text transform="translate(141.11,140.31) scale(0.95,1)" font-size="4.6" text-anchor="middle" fill="#000000" font-family="Liberation Serif, serif">0.15</text>
<text transform="translate(141.11,144.31) scale(0.95,1)" font-size="4.6" text-anchor="middle" fill="#000000" font-family="Liberation Serif, serif">(0.07)</text>
<text transform="translate(161.07,140.31) scale(0.95,1)" font-size="4.6" text-anchor="middle" fill="#000000" font-family="Liberation Serif, serif">0.066</text>
<text transform="translate(161.07,144.31) scale(0.95,1)" font-size="4.6" text-anchor="middle" fill="#000000" font-family="Liberation Serif, serif">(0.4)</text>
<text transform="translate(181.02,140.31) scale(0.95,1)" font-size="4.6" text-anchor="middle" fill="#000000" font-family="Liberation Serif, serif">0.15</text>
<text transform="translate(181.02,144.31) scale(0.95,1)" font-size="4.6" text-anchor="middle" fill="#000000" font-family="Liberation Serif, serif">(0.07)</text>
<text transform="translate(41.33,151.47) scale(0.95,1)" font-size="4.6" text-anchor="middle" fill="#000000" font-family="Liberation Serif, serif">−0.086</text>
<text transform="translate(41.33,155.47) scale(0.95,1)" font-size="4.6" text-anchor="middle" fill="#000000" font-family="Liberation Serif, serif">(0.3)</text>
<text transform="translate(61.28,151.47) scale(0.95,1)" font-size="4.6" text-anchor="middle" fill="#000000" font-family="Liberation Serif, serif">−0.066</text>
<text transform="translate(61.28,155.47) scale(0.95,1)" font-size="4.6" text-anchor="middle" fill="#000000" font-family="Liberation Serif, serif">(0.4)</text>
<text transform="translate(81.24,151.47) scale(0.95,1)" font-size="4.6" text-anchor="middle" fill="#000000" font-family="Liberation Serif, serif">0.18</text>
<text transform="translate(81.24,155.47) scale(0.95,1)" font-size="4.6" text-anchor="middle" fill="#000000" font-family="Liberation Serif, serif">(0.03)</text>
<text transform="translate(101.20,151.47) scale(0.95,1)" font-size="4.6" text-anchor="middle" fill="#000000" font-family="Liberation Serif, serif">−0.12</text>
<text transform="translate(101.20,155.47) scale(0.95,1)" font-size="4.6" text-anchor="middle" fill="#000000" font-family="Liberation Serif, serif">(0.2)</text>
<text transform="translate(121.15,151.47) scale(0.95,1)" font-size="4.6" text-anchor="middle" fill="#000000" font-family="Liberation Serif, serif">−0.12</text>
<text transform="translate(121.15,155.47) scale(0.95,1)" font-size="4.6" text-anchor="middle" fill="#000000" font-family="Liberation Serif, serif">(0.2)</text>
<text transform="translate(141.11,151.47) scale(0.95,1)" font-size="4.6" text-anchor="middle" fill="#000000" font-family="Liberation Serif, serif">0.11</text>
<text transform="translate(141.11,155.47) scale(0.95,1)" font-size="4.6" text-anchor="middle" fill="#000000" font-family="Liberation Serif, serif">(0.2)</text>
<text transform="translate(161.07,151.47) scale(0.95,1)" font-size="4.6" text-anchor="middle" fill="#000000" font-family="Liberation Serif, serif">0.1</text>
<text transform="translate(161.07,155.47) scale(0.95,1)" font-size="4.6" text-anchor="middle" fill="#000000" font-family="Liberation Serif, serif">(0.2)</text>
<text transform="translate(181.02,151.47) scale(0.95,1)" font-size="4.6" text-anchor="middle" fill="#000000" font-family="Liberation Serif, serif">0.092</text>
<text transform="translate(181.02,155.47) scale(0.95,1)" font-size="4.6" text-anchor="middle" fill="#000000" font-family="Liberation Serif, serif">(0.3)</text>
<text transform="translate(41.33,162.64) scale(0.95,1)" font-size="4.6" text-anchor="middle" fill="#000000" font-family="Liberation Serif, serif">−0.053</text>
<text transform="translate(41.33,166.64) scale(0.95,1)" font-size="4.6" text-anchor="middle" fill="#000000" font-family="Liberation Serif, serif">(0.5)</text>
<text transform="translate(61.28,162.64) scale(0.95,1)" font-size="4.6" text-anchor="middle" fill="#000000" font-family="Liberation Serif, serif">−0.17</text>
<text transform="translate(61.28,166.64) scale(0.95,1)" font-size="4.6" text-anchor="middle" fill="#000000" font-family="Liberation Serif, serif">(0.04)</text>
<text transform="translate(81.24,162.64) scale(0.95,1)" font-size="4.6" text-anchor="middle" fill="#000000" font-family="Liberation Serif, serif">0.27</text>
<text transform="translate(81.24,166.64) scale(0.95,1)" font-size="4.6" text-anchor="middle" fill="#000000" font-family="Liberation Serif, serif">(0.001)</text>
<text transform="translate(101.20,162.64) scale(0.95,1)" font-size="4.6" text-anchor="middle" fill="#000000" font-family="Liberation Serif, serif">−0.16</text>
<text transform="translate(101.20,166.64) scale(0.95,1)" font-size="4.6" text-anchor="middle" fill="#000000" font-family="Liberation Serif, serif">(0.06)</text>
<text transform="translate(121.15,162.64) scale(0.95,1)" font-size="4.6" text-anchor="middle" fill="#000000" font-family="Liberation Serif, serif">−0.14</text>
<text transform="translate(121.15,166.64) scale(0.95,1)" font-size="4.6" text-anchor="middle" fill="#000000" font-family="Liberation Serif, serif">(0.09)</text>
<text transform="translate(141.11,162.64) scale(0.95,1)" font-size="4.6" text-anchor="middle" fill="#000000" font-family="Liberation Serif, serif">0.27</text>
<text transform="translate(141.11,166.64) scale(0.95,1)" font-size="4.6" text-anchor="middle" fill="#000000" font-family="Liberation Serif, serif">(0.001)</text>
<text transform="translate(161.07,162.64) scale(0.95,1)" font-size="4.6" text-anchor="middle" fill="#000000" font-family="Liberation Serif, serif">0.19</text>
<text transform="translate(161.07,166.64) scale(0.95,1)" font-size="4.6" text-anchor="middle" fill="#000000" font-family="Liberation Serif, serif">(0.02)</text>
<text transform="translate(181.02,162.64) scale(0.95,1)" font-size="4.6" text-anchor="middle" fill="#000000" font-family="Liberation Serif, serif">0.074</text>
<text transform="translate(181.02,166.64) scale(0.95,1)" font-size="4.6" text-anchor="middle" fill="#000000" font-family="Liberation Serif, serif">(0.4)</text>
<text transform="translate(41.33,173.80) scale(0.95,1)" font-size="4.6" text-anchor="middle" fill="#000000" font-family="Liberation Serif, serif">0.12</text>
<text transform="translate(41.33,177.80) scale(0.95,1)" font-size="4.6" text-anchor="middle" fill="#000000" font-family="Liberation Serif, serif">(0.1)</text>
<text transform="translate(61.28,173.80) scale(0.95,1)" font-size="4.6" text-anchor="middle" fill="#000000" font-family="Liberation Serif, serif">−0.14</text>
<text transform="translate(61.28,177.80) scale(0.95,1)" font-size="4.6" text-anchor="middle" fill="#000000" font-family="Liberation Serif, serif">(0.1)</text>
<text transform="translate(81.24,173.80) scale(0.95,1)" font-size="4.6" text-anchor="middle" fill="#000000" font-family="Liberation Serif, serif">0.19</text>
<text transform="translate(81.24,177.80) scale(0.95,1)" font-size="4.6" text-anchor="middle" fill="#000000" font-family="Liberation Serif, serif">(0.02)</text>
<text transform="translate(101.20,173.80) scale(0.95,1)" font-size="4.6" text-anchor="middle" fill="#000000" font-family="Liberation Serif, serif">−0.15</text>
<text transform="translate(101.20,177.80) scale(0.95,1)" font-size="4.6" text-anchor="middle" fill="#000000" font-family="Liberation Serif, serif">(0.07)</text>
<text transform="translate(121.15,173.80) scale(0.95,1)" font-size="4.6" text-anchor="middle" fill="#000000" font-family="Liberation Serif, serif">−0.17</text>
<text transform="translate(121.15,177.80) scale(0.95,1)" font-size="4.6" text-anchor="middle" fill="#000000" font-family="Liberation Serif, serif">(0.04)</text>
<text transform="translate(141.11,173.80) scale(0.95,1)" font-size="4.6" text-anchor="middle" fill="#000000" font-family="Liberation Serif, serif">0.16</text>
<text transform="translate(141.11,177.80) scale(0.95,1)" font-size="4.6" text-anchor="middle" fill="#000000" font-family="Liberation Serif, serif">(0.06)</text>
<text transform="translate(161.07,173.80) scale(0.95,1)" font-size="4.6" text-anchor="middle" fill="#000000" font-family="Liberation Serif, serif">0.079</text>
<text transform="translate(161.07,177.80) scale(0.95,1)" font-size="4.6" text-anchor="middle" fill="#000000" font-family="Liberation Serif, serif">(0.4)</text>
<text transform="translate(181.02,173.80) scale(0.95,1)" font-size="4.6" text-anchor="middle" fill="#000000" font-family="Liberation Serif, serif">0.093</text>
<text transform="translate(181.02,177.80) scale(0.95,1)" font-size="4.6" text-anchor="middle" fill="#000000" font-family="Liberation Serif, serif">(0.3)</text>
<text transform="translate(41.33,184.97) scale(0.95,1)" font-size="4.6" text-anchor="middle" fill="#000000" font-family="Liberation Serif, serif">0.033</text>
<text transform="translate(41.33,188.97) scale(0.95,1)" font-size="4.6" text-anchor="middle" fill="#000000" font-family="Liberation Serif, serif">(0.7)</text>
<text transform="translate(61.28,184.97) scale(0.95,1)" font-size="4.6" text-anchor="middle" fill="#000000" font-family="Liberation Serif, serif">−0.09</text>
<text transform="translate(61.28,188.97) scale(0.95,1)" font-size="4.6" text-anchor="middle" fill="#000000" font-family="Liberation Serif, serif">(0.3)</text>
<text transform="translate(81.24,184.97) scale(0.95,1)" font-size="4.6" text-anchor="middle" fill="#000000" font-family="Liberation Serif, serif">0.075</text>
<text transform="translate(81.24,188.97) scale(0.95,1)" font-size="4.6" text-anchor="middle" fill="#000000" font-family="Liberation Serif, serif">(0.4)</text>
<text transform="translate(101.20,184.97) scale(0.95,1)" font-size="4.6" text-anchor="middle" fill="#000000" font-family="Liberation Serif, serif">−0.1</text>
<text transform="translate(101.20,188.97) scale(0.95,1)" font-size="4.6" text-anchor="middle" fill="#000000" font-family="Liberation Serif, serif">(0.2)</text>
<text transform="translate(121.15,184.97) scale(0.95,1)" font-size="4.6" text-anchor="middle" fill="#000000" font-family="Liberation Serif, serif">−0.12</text>
<text transform="translate(121.15,188.97) scale(0.95,1)" font-size="4.6" text-anchor="middle" fill="#000000" font-family="Liberation Serif, serif">(0.2)</text>
<text transform="translate(141.11,184.97) scale(0.95,1)" font-size="4.6" text-anchor="middle" fill="#000000" font-family="Liberation Serif, serif">0.057</text>
<text transform="translate(141.11,188.97) scale(0.95,1)" font-size="4.6" text-anchor="middle" fill="#000000" font-family="Liberation Serif, serif">(0.5)</text>
<text transform="translate(161.07,184.97) scale(0.95,1)" font-size="4.6" text-anchor="middle" fill="#000000" font-family="Liberation Serif, serif">0.19</text>
<text transform="translate(161.07,188.97) scale(0.95,1)" font-size="4.6" text-anchor="middle" fill="#000000" font-family="Liberation Serif, serif">(0.02)</text>
<text transform="translate(181.02,184.97) scale(0.95,1)" font-size="4.6" text-anchor="middle" fill="#000000" font-family="Liberation Serif, serif">0.31</text>
<text transform="translate(181.02,188.97) scale(0.95,1)" font-size="4.6" text-anchor="middle" fill="#000000" font-family="Liberation Serif, serif">(2e−04)</text>
<text transform="translate(41.33,196.13) scale(0.95,1)" font-size="4.6" text-anchor="middle" fill="#000000" font-family="Liberation Serif, serif">0.098</text>
<text transform="translate(41.33,200.13) scale(0.95,1)" font-size="4.6" text-anchor="middle" fill="#000000" font-family="Liberation Serif, serif">(0.2)</text>
<text transform="translate(61.28,196.13) scale(0.95,1)" font-size="4.6" text-anchor="middle" fill="#000000" font-family="Liberation Serif, serif">−0.021</text>
<text transform="translate(61.28,200.13) scale(0.95,1)" font-size="4.6" text-anchor="middle" fill="#000000" font-family="Liberation Serif, serif">(0.8)</text>
<text transform="translate(81.24,196.13) scale(0.95,1)" font-size="4.6" text-anchor="middle" fill="#000000" font-family="Liberation Serif, serif">0.043</text>
<text transform="translate(81.24,200.13) scale(0.95,1)" font-size="4.6" text-anchor="middle" fill="#000000" font-family="Liberation Serif, serif">(0.6)</text>
<text transform="translate(101.20,196.13) scale(0.95,1)" font-size="4.6" text-anchor="middle" fill="#000000" font-family="Liberation Serif, serif">−0.078</text>
<text transform="translate(101.20,200.13) scale(0.95,1)" font-size="4.6" text-anchor="middle" fill="#000000" font-family="Liberation Serif, serif">(0.3)</text>
<text transform="translate(121.15,196.13) scale(0.95,1)" font-size="4.6" text-anchor="middle" fill="#000000" font-family="Liberation Serif, serif">0.059</text>
<text transform="translate(121.15,200.13) scale(0.95,1)" font-size="4.6" text-anchor="middle" fill="#000000" font-family="Liberation Serif, serif">(0.5)</text>
<text transform="translate(141.11,196.13) scale(0.95,1)" font-size="4.6" text-anchor="middle" fill="#000000" font-family="Liberation Serif, serif">0.049</text>
<text transform="translate(141.11,200.13) scale(0.95,1)" font-size="4.6" text-anchor="middle" fill="#000000" font-family="Liberation Serif, serif">(0.6)</text>
<text transform="translate(161.07,196.13) scale(0.95,1)" font-size="4.6" text-anchor="middle" fill="#000000" font-family="Liberation Serif, serif">0.083</text>
<text transform="translate(161.07,200.13) scale(0.95,1)" font-size="4.6" text-anchor="middle" fill="#000000" font-family="Liberation Serif, serif">(0.3)</text>
<text transform="translate(181.02,196.13) scale(0.95,1)" font-size="4.6" text-anchor="middle" fill="#000000" font-family="Liberation Serif, serif">0.57</text>
<text transform="translate(181.02,200.13) scale(0.95,1)" font-size="4.6" text-anchor="middle" fill="#000000" font-family="Liberation Serif, serif">(3e−13)</text>
<text transform="translate(41.33,207.30) scale(0.95,1)" font-size="4.6" text-anchor="middle" fill="#000000" font-family="Liberation Serif, serif">0.036</text>
<text transform="translate(41.33,211.30) scale(0.95,1)" font-size="4.6" text-anchor="middle" fill="#000000" font-family="Liberation Serif, serif">(0.7)</text>
<text transform="translate(61.28,207.30) scale(0.95,1)" font-size="4.6" text-anchor="middle" fill="#000000" font-family="Liberation Serif, serif">−0.12</text>
<text transform="translate(61.28,211.30) scale(0.95,1)" font-size="4.6" text-anchor="middle" fill="#000000" font-family="Liberation Serif, serif">(0.2)</text>
<text transform="translate(81.24,207.30) scale(0.95,1)" font-size="4.6" text-anchor="middle" fill="#000000" font-family="Liberation Serif, serif">0.11</text>
<text transform="translate(81.24,211.30) scale(0.95,1)" font-size="4.6" text-anchor="middle" fill="#000000" font-family="Liberation Serif, serif">(0.2)</text>
<text transform="translate(101.20,207.30) scale(0.95,1)" font-size="4.6" text-anchor="middle" fill="#000000" font-family="Liberation Serif, serif">−0.13</text>
<text transform="translate(101.20,211.30) scale(0.95,1)" font-size="4.6" text-anchor="middle" fill="#000000" font-family="Liberation Serif, serif">(0.1)</text>
<text transform="translate(121.15,207.30) scale(0.95,1)" font-size="4.6" text-anchor="middle" fill="#000000" font-family="Liberation Serif, serif">−0.14</text>
<text transform="translate(121.15,211.30) scale(0.95,1)" font-size="4.6" text-anchor="middle" fill="#000000" font-family="Liberation Serif, serif">(0.09)</text>
<text transform="translate(141.11,207.30) scale(0.95,1)" font-size="4.6" text-anchor="middle" fill="#000000" font-family="Liberation Serif, serif">0.098</text>
<text transform="translate(141.11,211.30) scale(0.95,1)" font-size="4.6" text-anchor="middle" fill="#000000" font-family="Liberation Serif, serif">(0.2)</text>
<text transform="translate(161.07,207.30) scale(0.95,1)" font-size="4.6" text-anchor="middle" fill="#000000" font-family="Liberation Serif, serif">0.17</text>
<text transform="translate(161.07,211.30) scale(0.95,1)" font-size="4.6" text-anchor="middle" fill="#000000" font-family="Liberation Serif, serif">(0.05)</text>
<text transform="translate(181.02,207.30) scale(0.95,1)" font-size="4.6" text-anchor="middle" fill="#000000" font-family="Liberation Serif, serif">0.64</text>
<text transform="translate(181.02,211.30) scale(0.95,1)" font-size="4.6" text-anchor="middle" fill="#000000" font-family="Liberation Serif, serif">(9e−17)</text>
<text transform="translate(41.33,218.46) scale(0.95,1)" font-size="4.6" text-anchor="middle" fill="#000000" font-family="Liberation Serif, serif">−0.058</text>
<text transform="translate(41.33,222.46) scale(0.95,1)" font-size="4.6" text-anchor="middle" fill="#000000" font-family="Liberation Serif, serif">(0.5)</text>
<text transform="translate(61.28,218.46) scale(0.95,1)" font-size="4.6" text-anchor="middle" fill="#000000" font-family="Liberation Serif, serif">−0.066</text>
<text transform="translate(61.28,222.46) scale(0.95,1)" font-size="4.6" text-anchor="middle" fill="#000000" font-family="Liberation Serif, serif">(0.4)</text>
<text transform="translate(81.24,218.46) scale(0.95,1)" font-size="4.6" text-anchor="middle" fill="#000000" font-family="Liberation Serif, serif">0.013</text>
<text transform="translate(81.24,222.46) scale(0.95,1)" font-size="4.6" text-anchor="middle" fill="#000000" font-family="Liberation Serif, serif">(0.9)</text>
<text transform="translate(101.20,218.46) scale(0.95,1)" font-size="4.6" text-anchor="middle" fill="#000000" font-family="Liberation Serif, serif">−0.052</text>
<text transform="translate(101.20,222.46) scale(0.95,1)" font-size="4.6" text-anchor="middle" fill="#000000" font-family="Liberation Serif, serif">(0.5)</text>
<text transform="translate(121.15,218.46) scale(0.95,1)" font-size="4.6" text-anchor="middle" fill="#000000" font-family="Liberation Serif, serif">−0.086</text>
<text transform="translate(121.15,222.46) scale(0.95,1)" font-size="4.6" text-anchor="middle" fill="#000000" font-family="Liberation Serif, serif">(0.3)</text>
<text transform="translate(141.11,218.46) scale(0.95,1)" font-size="4.6" text-anchor="middle" fill="#000000" font-family="Liberation Serif, serif">0.0037</text>
<text transform="translate(141.11,222.46) scale(0.95,1)" font-size="4.6" text-anchor="middle" fill="#000000" font-family="Liberation Serif, serif">(1)</text>
<text transform="translate(161.07,218.46) scale(0.95,1)" font-size="4.6" text-anchor="middle" fill="#000000" font-family="Liberation Serif, serif">0.066</text>
<text transform="translate(161.07,222.46) scale(0.95,1)" font-size="4.6" text-anchor="middle" fill="#000000" font-family="Liberation Serif, serif">(0.4)</text>
<text transform="translate(181.02,218.46) scale(0.95,1)" font-size="4.6" text-anchor="middle" fill="#000000" font-family="Liberation Serif, serif">0.63</text>
<text transform="translate(181.02,222.46) scale(0.95,1)" font-size="4.6" text-anchor="middle" fill="#000000" font-family="Liberation Serif, serif">(1e−17)</text>
<text transform="translate(41.33,229.62) scale(0.95,1)" font-size="4.6" text-anchor="middle" fill="#000000" font-family="Liberation Serif, serif">−0.047</text>
<text transform="translate(41.33,233.62) scale(0.95,1)" font-size="4.6" text-anchor="middle" fill="#000000" font-family="Liberation Serif, serif">(0.6)</text>
<text transform="translate(61.28,229.62) scale(0.95,1)" font-size="4.6" text-anchor="middle" fill="#000000" font-family="Liberation Serif, serif">−0.22</text>
<text transform="translate(61.28,233.62) scale(0.95,1)" font-size="4.6" text-anchor="middle" fill="#000000" font-family="Liberation Serif, serif">(0.01)</text>
<text transform="translate(81.24,229.62) scale(0.95,1)" font-size="4.6" text-anchor="middle" fill="#000000" font-family="Liberation Serif, serif">0.023</text>
<text transform="translate(81.24,233.62) scale(0.95,1)" font-size="4.6" text-anchor="middle" fill="#000000" font-family="Liberation Serif, serif">(0.8)</text>
<text transform="translate(101.20,229.62) scale(0.95,1)" font-size="4.6" text-anchor="middle" fill="#000000" font-family="Liberation Serif, serif">−0.064</text>
<text transform="translate(101.20,233.62) scale(0.95,1)" font-size="4.6" text-anchor="middle" fill="#000000" font-family="Liberation Serif, serif">(0.4)</text>
<text transform="translate(121.15,229.62) scale(0.95,1)" font-size="4.6" text-anchor="middle" fill="#000000" font-family="Liberation Serif, serif">−0.088</text>
<text transform="translate(121.15,233.62) scale(0.95,1)" font-size="4.6" text-anchor="middle" fill="#000000" font-family="Liberation Serif, serif">(0.3)</text>
<text transform="translate(141.11,229.62) scale(0.95,1)" font-size="4.6" text-anchor="middle" fill="#000000" font-family="Liberation Serif, serif">−0.063</text>
<text transform="translate(141.11,233.62) scale(0.95,1)" font-size="4.6" text-anchor="middle" fill="#000000" font-family="Liberation Serif, serif">(0.5)</text>
<text transform="translate(161.07,229.62) scale(0.95,1)" font-size="4.6" text-anchor="middle" fill="#000000" font-family="Liberation Serif, serif">0.048</text>
<text transform="translate(161.07,233.62) scale(0.95,1)" font-size="4.6" text-anchor="middle" fill="#000000" font-family="Liberation Serif, serif">(0.6)</text>
<text transform="translate(181.02,229.62) scale(0.95,1)" font-size="4.6" text-anchor="middle" fill="#000000" font-family="Liberation Serif, serif">0.46</text>
<text transform="translate(181.02,233.62) scale(0.95,1)" font-size="4.6" text-anchor="middle" fill="#000000" font-family="Liberation Serif, serif">(2e−08)</text>
<text transform="translate(41.33,240.79) scale(0.95,1)" font-size="4.6" text-anchor="middle" fill="#000000" font-family="Liberation Serif, serif">0.01</text>
<text transform="translate(41.33,244.79) scale(0.95,1)" font-size="4.6" text-anchor="middle" fill="#000000" font-family="Liberation Serif, serif">(0.9)</text>
<text transform="translate(61.28,240.79) scale(0.95,1)" font-size="4.6" text-anchor="middle" fill="#000000" font-family="Liberation Serif, serif">−0.07</text>
<text transform="translate(61.28,244.79) scale(0.95,1)" font-size="4.6" text-anchor="middle" fill="#000000" font-family="Liberation Serif, serif">(0.4)</text>
<text transform="translate(81.24,240.79) scale(0.95,1)" font-size="4.6" text-anchor="middle" fill="#000000" font-family="Liberation Serif, serif">0.12</text>
<text transform="translate(81.24,244.79) scale(0.95,1)" font-size="4.6" text-anchor="middle" fill="#000000" font-family="Liberation Serif, serif">(0.2)</text>
<text transform="translate(101.20,240.79) scale(0.95,1)" font-size="4.6" text-anchor="middle" fill="#000000" font-family="Liberation Serif, serif">−0.11</text>
<text transform="translate(101.20,244.79) scale(0.95,1)" font-size="4.6" text-anchor="middle" fill="#000000" font-family="Liberation Serif, serif">(0.2)</text>
<text transform="translate(121.15,240.79) scale(0.95,1)" font-size="4.6" text-anchor="middle" fill="#000000" font-family="Liberation Serif, serif">−0.13</text>
<text transform="translate(121.15,244.79) scale(0.95,1)" font-size="4.6" text-anchor="middle" fill="#000000" font-family="Liberation Serif, serif">(0.1)</text>
<text transform="translate(141.11,240.79) scale(0.95,1)" font-size="4.6" text-anchor="middle" fill="#000000" font-family="Liberation Serif, serif">0.083</text>
<text transform="translate(141.11,244.79) scale(0.95,1)" font-size="4.6" text-anchor="middle" fill="#000000" font-family="Liberation Serif, serif">(0.3)</text>
<text transform="translate(161.07,240.79) scale(0.95,1)" font-size="4.6" text-anchor="middle" fill="#000000" font-family="Liberation Serif, serif">0.04</text>
<text transform="translate(161.07,244.79) scale(0.95,1)" font-size="4.6" text-anchor="middle" fill="#000000" font-family="Liberation Serif, serif">(0.6)</text>
<text transform="translate(181.02,240.79) scale(0.95,1)" font-size="4.6" text-anchor="middle" fill="#000000" font-family="Liberation Serif, serif">0.42</text>
<text transform="translate(181.02,244.79) scale(0.95,1)" font-size="4.6" text-anchor="middle" fill="#000000" font-family="Liberation Serif, serif">(2e−07)</text>
<text transform="translate(41.33,251.95) scale(0.95,1)" font-size="4.6" text-anchor="middle" fill="#000000" font-family="Liberation Serif, serif">−0.086</text>
<text transform="translate(41.33,255.95) scale(0.95,1)" font-size="4.6" text-anchor="middle" fill="#000000" font-family="Liberation Serif, serif">(0.3)</text>
<text transform="translate(61.28,251.95) scale(0.95,1)" font-size="4.6" text-anchor="middle" fill="#000000" font-family="Liberation Serif, serif">0.016</text>
<text transform="translate(61.28,255.95) scale(0.95,1)" font-size="4.6" text-anchor="middle" fill="#000000" font-family="Liberation Serif, serif">(0.9)</text>
<text transform="translate(81.24,251.95) scale(0.95,1)" font-size="4.6" text-anchor="middle" fill="#000000" font-family="Liberation Serif, serif">0.035</text>
<text transform="translate(81.24,255.95) scale(0.95,1)" font-size="4.6" text-anchor="middle" fill="#000000" font-family="Liberation Serif, serif">(0.7)</text>
<text transform="translate(101.20,251.95) scale(0.95,1)" font-size="4.6" text-anchor="middle" fill="#000000" font-family="Liberation Serif, serif">−0.12</text>
<text transform="translate(101.20,255.95) scale(0.95,1)" font-size="4.6" text-anchor="middle" fill="#000000" font-family="Liberation Serif, serif">(0.2)</text>
<text transform="translate(121.15,251.95) scale(0.95,1)" font-size="4.6" text-anchor="middle" fill="#000000" font-family="Liberation Serif, serif">−0.15</text>
<text transform="translate(121.15,255.95) scale(0.95,1)" font-size="4.6" text-anchor="middle" fill="#000000" font-family="Liberation Serif, serif">(0.07)</text>
<text transform="translate(141.11,251.95) scale(0.95,1)" font-size="4.6" text-anchor="middle" fill="#000000" font-family="Liberation Serif, serif">0.014</text>
<text transform="translate(141.11,255.95) scale(0.95,1)" font-size="4.6" text-anchor="middle" fill="#000000" font-family="Liberation Serif, serif">(0.9)</text>
<text transform="translate(161.07,251.95) scale(0.95,1)" font-size="4.6" text-anchor="middle" fill="#000000" font-family="Liberation Serif, serif">0.026</text>
<text transform="translate(161.07,255.95) scale(0.95,1)" font-size="4.6" text-anchor="middle" fill="#000000" font-family="Liberation Serif, serif">(0.8)</text>
<text transform="translate(181.02,251.95) scale(0.95,1)" font-size="4.6" text-anchor="middle" fill="#000000" font-family="Liberation Serif, serif">0.23</text>
<text transform="translate(181.02,255.95) scale(0.95,1)" font-size="4.6" text-anchor="middle" fill="#000000" font-family="Liberation Serif, serif">(0.005)</text>
<text transform="translate(41.33,263.12) scale(0.95,1)" font-size="4.6" text-anchor="middle" fill="#000000" font-family="Liberation Serif, serif">−0.078</text>
<text transform="translate(41.33,267.12) scale(0.95,1)" font-size="4.6" text-anchor="middle" fill="#000000" font-family="Liberation Serif, serif">(0.4)</text>
<text transform="translate(61.28,263.12) scale(0.95,1)" font-size="4.6" text-anchor="middle" fill="#000000" font-family="Liberation Serif, serif">−0.16</text>
<text transform="translate(61.28,267.12) scale(0.95,1)" font-size="4.6" text-anchor="middle" fill="#000000" font-family="Liberation Serif, serif">(0.05)</text>
<text transform="translate(81.24,263.12) scale(0.95,1)" font-size="4.6" text-anchor="middle" fill="#000000" font-family="Liberation Serif, serif">0.27</text>
<text transform="translate(81.24,267.12) scale(0.95,1)" font-size="4.6" text-anchor="middle" fill="#000000" font-family="Liberation Serif, serif">(0.001)</text>
<text transform="translate(101.20,263.12) scale(0.95,1)" font-size="4.6" text-anchor="middle" fill="#000000" font-family="Liberation Serif, serif">−0.2</text>
<text transform="translate(101.20,267.12) scale(0.95,1)" font-size="4.6" text-anchor="middle" fill="#000000" font-family="Liberation Serif, serif">(0.02)</text>
<text transform="translate(121.15,263.12) scale(0.95,1)" font-size="4.6" text-anchor="middle" fill="#000000" font-family="Liberation Serif, serif">−0.17</text>
<text transform="translate(121.15,267.12) scale(0.95,1)" font-size="4.6" text-anchor="middle" fill="#000000" font-family="Liberation Serif, serif">(0.04)</text>
<text transform="translate(141.11,263.12) scale(0.95,1)" font-size="4.6" text-anchor="middle" fill="#000000" font-family="Liberation Serif, serif">0.28</text>
<text transform="translate(141.11,267.12) scale(0.95,1)" font-size="4.6" text-anchor="middle" fill="#000000" font-family="Liberation Serif, serif">(9e−04)</text>
<text transform="translate(161.07,263.12) scale(0.95,1)" font-size="4.6" text-anchor="middle" fill="#000000" font-family="Liberation Serif, serif">0.25</text>
<text transform="translate(161.07,267.12) scale(0.95,1)" font-size="4.6" text-anchor="middle" fill="#000000" font-family="Liberation Serif, serif">(0.003)</text>
<text transform="translate(181.02,263.12) scale(0.95,1)" font-size="4.6" text-anchor="middle" fill="#000000" font-family="Liberation Serif, serif">0.065</text>
<text transform="translate(181.02,267.12) scale(0.95,1)" font-size="4.6" text-anchor="middle" fill="#000000" font-family="Liberation Serif, serif">(0.4)</text>
<rect x="169.94" y="191.15" width="18.96" height="55.02" fill="none" stroke="#d63030" stroke-width="0.9"/>
<rect x="29.75" y="112.60" width="159.65" height="156.30" fill="none" stroke="#7c7c7c" stroke-width="1.9"/>
<text x="14.50" y="120.08" font-size="5.3" text-anchor="middle" fill="#151515" font-weight="normal" stroke="#151515" stroke-width="0.1">brown</text>
<text x="14.50" y="131.25" font-size="5.3" text-anchor="middle" fill="#151515" font-weight="normal" stroke="#151515" stroke-width="0.1">greenyellow</text>
<text x="14.50" y="142.41" font-size="5.3" text-anchor="middle" fill="#151515" font-weight="normal" stroke="#151515" stroke-width="0.1">pink</text>
<text x="14.50" y="153.57" font-size="5.3" text-anchor="middle" fill="#151515" font-weight="normal" stroke="#151515" stroke-width="0.1">black</text>
<text x="14.50" y="164.74" font-size="5.3" text-anchor="middle" fill="#151515" font-weight="normal" stroke="#151515" stroke-width="0.1">turquoise</text>
<text x="14.50" y="175.90" font-size="5.3" text-anchor="middle" fill="#151515" font-weight="normal" stroke="#151515" stroke-width="0.1">magenta</text>
<text x="14.50" y="187.07" font-size="5.3" text-anchor="middle" fill="#151515" font-weight="normal" stroke="#151515" stroke-width="0.1">yellow</text>
<text x="14.50" y="198.23" font-size="5.3" text-anchor="middle" fill="#e04040" font-weight="normal" >tan</text>
<text x="14.50" y="209.40" font-size="5.3" text-anchor="middle" fill="#e04040" font-weight="normal" >blue</text>
<text x="14.50" y="220.56" font-size="5.3" text-anchor="middle" fill="#e04040" font-weight="normal" >green</text>
<text x="14.50" y="231.72" font-size="5.3" text-anchor="middle" fill="#e04040" font-weight="normal" >purple</text>
<text x="14.50" y="242.89" font-size="5.3" text-anchor="middle" fill="#e04040" font-weight="normal" >red</text>
<text x="14.50" y="254.05" font-size="5.3" text-anchor="middle" fill="#151515" font-weight="normal" stroke="#151515" stroke-width="0.1">salmon</text>
<text x="14.50" y="265.22" font-size="5.3" text-anchor="middle" fill="#151515" font-weight="normal" stroke="#151515" stroke-width="0.1">grey</text>
<text x="39.73" y="275.00" font-size="5.4" text-anchor="middle" fill="#111" font-weight="normal" stroke="#111" stroke-width="0.1">Gender</text>
<text x="59.68" y="275.00" font-size="5.4" text-anchor="middle" fill="#111" font-weight="normal" stroke="#111" stroke-width="0.1">Age</text>
<text x="79.64" y="275.00" font-size="5.4" text-anchor="middle" fill="#111" font-weight="normal" stroke="#111" stroke-width="0.1">T stage</text>
<text x="99.60" y="275.00" font-size="5.4" text-anchor="middle" fill="#111" font-weight="normal" stroke="#111" stroke-width="0.1">N stage</text>
<text x="119.55" y="275.00" font-size="5.4" text-anchor="middle" fill="#111" font-weight="normal" stroke="#111" stroke-width="0.1">M stage</text>
<text x="139.51" y="275.00" font-size="5.4" text-anchor="middle" fill="#111" font-weight="normal" stroke="#111" stroke-width="0.1">Stage</text>
<text x="159.47" y="275.00" font-size="5.4" text-anchor="middle" fill="#111" font-weight="normal" stroke="#111" stroke-width="0.1">Grade</text>
<text x="187.50" y="275.00" font-size="4.7" text-anchor="middle" fill="#111" font-weight="normal" stroke="#111" stroke-width="0.1">ImmuneScore</text>
<text x="96.00" y="110.00" font-size="6.0" text-anchor="middle" fill="#1a1a1a" font-weight="normal" >Module−trait relationships</text>
<linearGradient id="g671" x1="0" x2="1" y1="0" y2="0"><stop offset="0" stop-color="#d83a2a"/><stop offset="0.25" stop-color="#f09888"/><stop offset="0.5" stop-color="#ffffff"/><stop offset="0.75" stop-color="#90c0d8"/><stop offset="1" stop-color="#2a6a98"/></linearGradient>
<rect x="147.00" y="106.00" width="37.50" height="4.50" fill="url(#g671)" stroke="#333" stroke-width="0.6"/>
<line x1="147.00" y1="105.20" x2="147.00" y2="106.00" stroke="#333" stroke-width="0.5"/>
<text x="147.00" y="104.70" font-size="3.4" text-anchor="middle" fill="#222" font-weight="normal" >1</text>
<line x1="156.38" y1="105.20" x2="156.38" y2="106.00" stroke="#333" stroke-width="0.5"/>
<text x="156.38" y="104.70" font-size="3.4" text-anchor="middle" fill="#222" font-weight="normal" >0.5</text>
<line x1="165.75" y1="105.20" x2="165.75" y2="106.00" stroke="#333" stroke-width="0.5"/>
<text x="165.75" y="104.70" font-size="3.4" text-anchor="middle" fill="#222" font-weight="normal" >0</text>
<line x1="175.12" y1="105.20" x2="175.12" y2="106.00" stroke="#333" stroke-width="0.5"/>
<text x="175.12" y="104.70" font-size="3.4" text-anchor="middle" fill="#222" font-weight="normal" >−0.5</text>
<line x1="184.50" y1="105.20" x2="184.50" y2="106.00" stroke="#333" stroke-width="0.5"/>
<text x="184.50" y="104.70" font-size="3.4" text-anchor="middle" fill="#222" font-weight="normal" >−1</text>
<text x="212.60" y="108.40" font-size="6.6" text-anchor="start" fill="#111" font-weight="bold" >D</text>
<rect x="239.40" y="111.30" width="39.77" height="9.18" fill="#e4effa" />
<rect x="279.18" y="111.30" width="39.77" height="9.18" fill="#f1f7fc" />
<rect x="318.95" y="111.30" width="39.77" height="9.18" fill="#fcdbd6" />
<rect x="358.73" y="111.30" width="39.77" height="9.18" fill="#feefed" />
<rect x="239.40" y="120.48" width="39.77" height="9.18" fill="#e2eef9" />
<rect x="279.18" y="120.48" width="39.77" height="9.18" fill="#fffaf9" />
<rect x="318.95" y="120.48" width="39.77" height="9.18" fill="#fef3f1" />
<rect x="358.73" y="120.48" width="39.77" height="9.18" fill="#f8fbfe" />
<rect x="239.40" y="129.66" width="39.77" height="9.18" fill="#fffdfd" />
<rect x="279.18" y="129.66" width="39.77" height="9.18" fill="#e4effa" />
<rect x="318.95" y="129.66" width="39.77" height="9.18" fill="#fef4f2" />
<rect x="358.73" y="129.66" width="39.77" height="9.18" fill="#9fc7ec" />
<rect x="239.40" y="138.85" width="39.77" height="9.18" fill="#fef8f7" />
<rect x="279.18" y="138.85" width="39.77" height="9.18" fill="#e6f0fa" />
<rect x="318.95" y="138.85" width="39.77" height="9.18" fill="#fdeae7" />
<rect x="358.73" y="138.85" width="39.77" height="9.18" fill="#e6f0fa" />
<rect x="239.40" y="148.03" width="39.77" height="9.18" fill="#fef4f3" />
<rect x="279.18" y="148.03" width="39.77" height="9.18" fill="#e9f2fb" />
<rect x="318.95" y="148.03" width="39.77" height="9.18" fill="#fdfeff" />
<rect x="358.73" y="148.03" width="39.77" height="9.18" fill="#e2eef9" />
<rect x="239.40" y="157.21" width="39.77" height="9.18" fill="#fde8e5" />
<rect x="279.18" y="157.21" width="39.77" height="9.18" fill="#fdfeff" />
<rect x="318.95" y="157.21" width="39.77" height="9.18" fill="#fcd9d4" />
<rect x="358.73" y="157.21" width="39.77" height="9.18" fill="#f2f7fc" />
<rect x="239.40" y="166.39" width="39.77" height="9.18" fill="#fbfdfe" />
<rect x="279.18" y="166.39" width="39.77" height="9.18" fill="#fef3f1" />
<rect x="318.95" y="166.39" width="39.77" height="9.18" fill="#fffbfa" />
<rect x="358.73" y="166.39" width="39.77" height="9.18" fill="#d8e8f7" />
<rect x="239.40" y="175.58" width="39.77" height="9.18" fill="#fdeae7" />
<rect x="279.18" y="175.58" width="39.77" height="9.18" fill="#fafcfe" />
<rect x="318.95" y="175.58" width="39.77" height="9.18" fill="#fef4f3" />
<rect x="358.73" y="175.58" width="39.77" height="9.18" fill="#fffaf9" />
<rect x="239.40" y="184.76" width="39.77" height="9.18" fill="#fdeae7" />
<rect x="279.18" y="184.76" width="39.77" height="9.18" fill="#fef6f5" />
<rect x="318.95" y="184.76" width="39.77" height="9.18" fill="#cce1f5" />
<rect x="358.73" y="184.76" width="39.77" height="9.18" fill="#dbeaf8" />
<rect x="239.40" y="193.94" width="39.77" height="9.18" fill="#f7fbfe" />
<rect x="279.18" y="193.94" width="39.77" height="9.18" fill="#fde5e1" />
<rect x="318.95" y="193.94" width="39.77" height="9.18" fill="#9fc7ec" />
<rect x="358.73" y="193.94" width="39.77" height="9.18" fill="#c8def4" />
<rect x="239.40" y="203.12" width="39.77" height="9.18" fill="#fff9f9" />
<rect x="279.18" y="203.12" width="39.77" height="9.18" fill="#f0f6fc" />
<rect x="318.95" y="203.12" width="39.77" height="9.18" fill="#f5f9fd" />
<rect x="358.73" y="203.12" width="39.77" height="9.18" fill="#d8e8f7" />
<rect x="239.40" y="212.31" width="39.77" height="9.18" fill="#f2f7fc" />
<rect x="279.18" y="212.31" width="39.77" height="9.18" fill="#ffffff" />
<rect x="318.95" y="212.31" width="39.77" height="9.18" fill="#ffffff" />
<rect x="358.73" y="212.31" width="39.77" height="9.18" fill="#f0472f" />
<rect x="239.40" y="221.49" width="39.77" height="9.18" fill="#e4effa" />
<rect x="279.18" y="221.49" width="39.77" height="9.18" fill="#ebf3fb" />
<rect x="318.95" y="221.49" width="39.77" height="9.18" fill="#fefeff" />
<rect x="358.73" y="221.49" width="39.77" height="9.18" fill="#f9b1a6" />
<rect x="239.40" y="230.67" width="39.77" height="9.18" fill="#e6f0fa" />
<rect x="279.18" y="230.67" width="39.77" height="9.18" fill="#e4effa" />
<rect x="318.95" y="230.67" width="39.77" height="9.18" fill="#fdeae7" />
<rect x="358.73" y="230.67" width="39.77" height="9.18" fill="#fef5f3" />
<rect x="239.40" y="239.85" width="39.77" height="9.18" fill="#f2f7fc" />
<rect x="279.18" y="239.85" width="39.77" height="9.18" fill="#ddebf8" />
<rect x="318.95" y="239.85" width="39.77" height="9.18" fill="#f3f8fd" />
<rect x="358.73" y="239.85" width="39.77" height="9.18" fill="#f7fafd" />
<rect x="239.40" y="249.04" width="39.77" height="9.18" fill="#e6f0fa" />
<rect x="279.18" y="249.04" width="39.77" height="9.18" fill="#d8e8f7" />
<rect x="318.95" y="249.04" width="39.77" height="9.18" fill="#fef3f1" />
<rect x="358.73" y="249.04" width="39.77" height="9.18" fill="#feedeb" />
<rect x="239.40" y="258.22" width="39.77" height="9.18" fill="#fcddd9" />
<rect x="279.18" y="258.22" width="39.77" height="9.18" fill="#fef6f4" />
<rect x="318.95" y="258.22" width="39.77" height="9.18" fill="#fff9f9" />
<rect x="358.73" y="258.22" width="39.77" height="9.18" fill="#fef4f3" />
<text transform="translate(260.29,114.99) scale(0.85,1)" font-size="4.6" text-anchor="middle" fill="#000000" font-family="Liberation Serif, serif">−0.13</text>
<text transform="translate(260.29,119.09) scale(0.85,1)" font-size="4.6" text-anchor="middle" fill="#000000" font-family="Liberation Serif, serif">(0.07)</text>
<text transform="translate(300.06,114.99) scale(0.85,1)" font-size="4.6" text-anchor="middle" fill="#000000" font-family="Liberation Serif, serif">−0.07</text>
<text transform="translate(300.06,119.09) scale(0.85,1)" font-size="4.6" text-anchor="middle" fill="#000000" font-family="Liberation Serif, serif">(0.4)</text>
<text transform="translate(339.84,114.99) scale(0.85,1)" font-size="4.6" text-anchor="middle" fill="#000000" font-family="Liberation Serif, serif">0.23</text>
<text transform="translate(339.84,119.09) scale(0.85,1)" font-size="4.6" text-anchor="middle" fill="#000000" font-family="Liberation Serif, serif">(0.007)</text>
<text transform="translate(379.61,114.99) scale(0.85,1)" font-size="4.6" text-anchor="middle" fill="#000000" font-family="Liberation Serif, serif">0.12</text>
<text transform="translate(379.61,119.09) scale(0.85,1)" font-size="4.6" text-anchor="middle" fill="#000000" font-family="Liberation Serif, serif">(0.1)</text>
<text transform="translate(260.29,124.17) scale(0.85,1)" font-size="4.6" text-anchor="middle" fill="#000000" font-family="Liberation Serif, serif">−0.14</text>
<text transform="translate(260.29,128.27) scale(0.85,1)" font-size="4.6" text-anchor="middle" fill="#000000" font-family="Liberation Serif, serif">(0.06)</text>
<text transform="translate(300.06,124.17) scale(0.85,1)" font-size="4.6" text-anchor="middle" fill="#000000" font-family="Liberation Serif, serif">0.05</text>
<text transform="translate(300.06,128.27) scale(0.85,1)" font-size="4.6" text-anchor="middle" fill="#000000" font-family="Liberation Serif, serif">(0.5)</text>
<text transform="translate(339.84,124.17) scale(0.85,1)" font-size="4.6" text-anchor="middle" fill="#000000" font-family="Liberation Serif, serif">0.098</text>
<text transform="translate(339.84,128.27) scale(0.85,1)" font-size="4.6" text-anchor="middle" fill="#000000" font-family="Liberation Serif, serif">(0.2)</text>
<text transform="translate(379.61,124.17) scale(0.85,1)" font-size="4.6" text-anchor="middle" fill="#000000" font-family="Liberation Serif, serif">−0.038</text>
<text transform="translate(379.61,128.27) scale(0.85,1)" font-size="4.6" text-anchor="middle" fill="#000000" font-family="Liberation Serif, serif">(0.6)</text>
<text transform="translate(260.29,133.36) scale(0.85,1)" font-size="4.6" text-anchor="middle" fill="#000000" font-family="Liberation Serif, serif">0.02</text>
<text transform="translate(260.29,137.46) scale(0.85,1)" font-size="4.6" text-anchor="middle" fill="#000000" font-family="Liberation Serif, serif">(0.8)</text>
<text transform="translate(300.06,133.36) scale(0.85,1)" font-size="4.6" text-anchor="middle" fill="#000000" font-family="Liberation Serif, serif">−0.13</text>
<text transform="translate(300.06,137.46) scale(0.85,1)" font-size="4.6" text-anchor="middle" fill="#000000" font-family="Liberation Serif, serif">(0.06)</text>
<text transform="translate(339.84,133.36) scale(0.85,1)" font-size="4.6" text-anchor="middle" fill="#000000" font-family="Liberation Serif, serif">0.09</text>
<text transform="translate(339.84,137.46) scale(0.85,1)" font-size="4.6" text-anchor="middle" fill="#000000" font-family="Liberation Serif, serif">(0.2)</text>
<text transform="translate(379.61,133.36) scale(0.85,1)" font-size="4.6" text-anchor="middle" fill="#000000" font-family="Liberation Serif, serif">−0.41</text>
<text transform="translate(379.61,137.46) scale(0.85,1)" font-size="4.6" text-anchor="middle" fill="#000000" font-family="Liberation Serif, serif">(3e−07)</text>
<text transform="translate(260.29,142.54) scale(0.85,1)" font-size="4.6" text-anchor="middle" fill="#000000" font-family="Liberation Serif, serif">0.064</text>
<text transform="translate(260.29,146.64) scale(0.85,1)" font-size="4.6" text-anchor="middle" fill="#000000" font-family="Liberation Serif, serif">(0.4)</text>
<text transform="translate(300.06,142.54) scale(0.85,1)" font-size="4.6" text-anchor="middle" fill="#000000" font-family="Liberation Serif, serif">−0.12</text>
<text transform="translate(300.06,146.64) scale(0.85,1)" font-size="4.6" text-anchor="middle" fill="#000000" font-family="Liberation Serif, serif">(0.2)</text>
<text transform="translate(339.84,142.54) scale(0.85,1)" font-size="4.6" text-anchor="middle" fill="#000000" font-family="Liberation Serif, serif">0.15</text>
<text transform="translate(339.84,146.64) scale(0.85,1)" font-size="4.6" text-anchor="middle" fill="#000000" font-family="Liberation Serif, serif">(0.07)</text>
<text transform="translate(379.61,142.54) scale(0.85,1)" font-size="4.6" text-anchor="middle" fill="#000000" font-family="Liberation Serif, serif">−0.12</text>
<text transform="translate(379.61,146.64) scale(0.85,1)" font-size="4.6" text-anchor="middle" fill="#000000" font-family="Liberation Serif, serif">(0.1)</text>
<text transform="translate(260.29,151.72) scale(0.85,1)" font-size="4.6" text-anchor="middle" fill="#000000" font-family="Liberation Serif, serif">0.087</text>
<text transform="translate(260.29,155.82) scale(0.85,1)" font-size="4.6" text-anchor="middle" fill="#000000" font-family="Liberation Serif, serif">(0.3)</text>
<text transform="translate(300.06,151.72) scale(0.85,1)" font-size="4.6" text-anchor="middle" fill="#000000" font-family="Liberation Serif, serif">−0.11</text>
<text transform="translate(300.06,155.82) scale(0.85,1)" font-size="4.6" text-anchor="middle" fill="#000000" font-family="Liberation Serif, serif">(0.2)</text>
<text transform="translate(339.84,151.72) scale(0.85,1)" font-size="4.6" text-anchor="middle" fill="#000000" font-family="Liberation Serif, serif">−0.012</text>
<text transform="translate(339.84,155.82) scale(0.85,1)" font-size="4.6" text-anchor="middle" fill="#000000" font-family="Liberation Serif, serif">(0.9)</text>
<text transform="translate(379.61,151.72) scale(0.85,1)" font-size="4.6" text-anchor="middle" fill="#000000" font-family="Liberation Serif, serif">−0.14</text>
<text transform="translate(379.61,155.82) scale(0.85,1)" font-size="4.6" text-anchor="middle" fill="#000000" font-family="Liberation Serif, serif">(0.08)</text>
<text transform="translate(260.29,160.90) scale(0.85,1)" font-size="4.6" text-anchor="middle" fill="#000000" font-family="Liberation Serif, serif">0.16</text>
<text transform="translate(260.29,165.00) scale(0.85,1)" font-size="4.6" text-anchor="middle" fill="#000000" font-family="Liberation Serif, serif">(0.06)</text>
<text transform="translate(300.06,160.90) scale(0.85,1)" font-size="4.6" text-anchor="middle" fill="#000000" font-family="Liberation Serif, serif">−0.014</text>
<text transform="translate(300.06,165.00) scale(0.85,1)" font-size="4.6" text-anchor="middle" fill="#000000" font-family="Liberation Serif, serif">(0.9)</text>
<text transform="translate(339.84,160.90) scale(0.85,1)" font-size="4.6" text-anchor="middle" fill="#000000" font-family="Liberation Serif, serif">0.24</text>
<text transform="translate(339.84,165.00) scale(0.85,1)" font-size="4.6" text-anchor="middle" fill="#000000" font-family="Liberation Serif, serif">(0.004)</text>
<text transform="translate(379.61,160.90) scale(0.85,1)" font-size="4.6" text-anchor="middle" fill="#000000" font-family="Liberation Serif, serif">−0.067</text>
<text transform="translate(379.61,165.00) scale(0.85,1)" font-size="4.6" text-anchor="middle" fill="#000000" font-family="Liberation Serif, serif">(0.4)</text>
<text transform="translate(260.29,170.09) scale(0.85,1)" font-size="4.6" text-anchor="middle" fill="#000000" font-family="Liberation Serif, serif">−0.022</text>
<text transform="translate(260.29,174.19) scale(0.85,1)" font-size="4.6" text-anchor="middle" fill="#000000" font-family="Liberation Serif, serif">(0.8)</text>
<text transform="translate(300.06,170.09) scale(0.85,1)" font-size="4.6" text-anchor="middle" fill="#000000" font-family="Liberation Serif, serif">0.097</text>
<text transform="translate(300.06,174.19) scale(0.85,1)" font-size="4.6" text-anchor="middle" fill="#000000" font-family="Liberation Serif, serif">(0.2)</text>
<text transform="translate(339.84,170.09) scale(0.85,1)" font-size="4.6" text-anchor="middle" fill="#000000" font-family="Liberation Serif, serif">0.041</text>
<text transform="translate(339.84,174.19) scale(0.85,1)" font-size="4.6" text-anchor="middle" fill="#000000" font-family="Liberation Serif, serif">(0.6)</text>
<text transform="translate(379.61,170.09) scale(0.85,1)" font-size="4.6" text-anchor="middle" fill="#000000" font-family="Liberation Serif, serif">−0.18</text>
<text transform="translate(379.61,174.19) scale(0.85,1)" font-size="4.6" text-anchor="middle" fill="#000000" font-family="Liberation Serif, serif">(0.03)</text>
<text transform="translate(260.29,179.27) scale(0.85,1)" font-size="4.6" text-anchor="middle" fill="#000000" font-family="Liberation Serif, serif">0.15</text>
<text transform="translate(260.29,183.37) scale(0.85,1)" font-size="4.6" text-anchor="middle" fill="#000000" font-family="Liberation Serif, serif">(0.06)</text>
<text transform="translate(300.06,179.27) scale(0.85,1)" font-size="4.6" text-anchor="middle" fill="#000000" font-family="Liberation Serif, serif">−0.027</text>
<text transform="translate(300.06,183.37) scale(0.85,1)" font-size="4.6" text-anchor="middle" fill="#000000" font-family="Liberation Serif, serif">(0.7)</text>
<text transform="translate(339.84,179.27) scale(0.85,1)" font-size="4.6" text-anchor="middle" fill="#000000" font-family="Liberation Serif, serif">0.087</text>
<text transform="translate(339.84,183.37) scale(0.85,1)" font-size="4.6" text-anchor="middle" fill="#000000" font-family="Liberation Serif, serif">(0.3)</text>
<text transform="translate(379.61,179.27) scale(0.85,1)" font-size="4.6" text-anchor="middle" fill="#000000" font-family="Liberation Serif, serif">0.05</text>
<text transform="translate(379.61,183.37) scale(0.85,1)" font-size="4.6" text-anchor="middle" fill="#000000" font-family="Liberation Serif, serif">(0.5)</text>
<text transform="translate(260.29,188.45) scale(0.85,1)" font-size="4.6" text-anchor="middle" fill="#000000" font-family="Liberation Serif, serif">0.15</text>
<text transform="translate(260.29,192.55) scale(0.85,1)" font-size="4.6" text-anchor="middle" fill="#000000" font-family="Liberation Serif, serif">(0.06)</text>
<text transform="translate(300.06,188.45) scale(0.85,1)" font-size="4.6" text-anchor="middle" fill="#000000" font-family="Liberation Serif, serif">0.076</text>
<text transform="translate(300.06,192.55) scale(0.85,1)" font-size="4.6" text-anchor="middle" fill="#000000" font-family="Liberation Serif, serif">(0.4)</text>
<text transform="translate(339.84,188.45) scale(0.85,1)" font-size="4.6" text-anchor="middle" fill="#000000" font-family="Liberation Serif, serif">−0.23</text>
<text transform="translate(339.84,192.55) scale(0.85,1)" font-size="4.6" text-anchor="middle" fill="#000000" font-family="Liberation Serif, serif">(0.005)</text>
<text transform="translate(379.61,188.45) scale(0.85,1)" font-size="4.6" text-anchor="middle" fill="#000000" font-family="Liberation Serif, serif">−0.17</text>
<text transform="translate(379.61,192.55) scale(0.85,1)" font-size="4.6" text-anchor="middle" fill="#000000" font-family="Liberation Serif, serif">(0.04)</text>
<text transform="translate(260.29,197.63) scale(0.85,1)" font-size="4.6" text-anchor="middle" fill="#000000" font-family="Liberation Serif, serif">−0.041</text>
<text transform="translate(260.29,201.73) scale(0.85,1)" font-size="4.6" text-anchor="middle" fill="#000000" font-family="Liberation Serif, serif">(0.6)</text>
<text transform="translate(300.06,197.63) scale(0.85,1)" font-size="4.6" text-anchor="middle" fill="#000000" font-family="Liberation Serif, serif">0.18</text>
<text transform="translate(300.06,201.73) scale(0.85,1)" font-size="4.6" text-anchor="middle" fill="#000000" font-family="Liberation Serif, serif">(0.03)</text>
<text transform="translate(339.84,197.63) scale(0.85,1)" font-size="4.6" text-anchor="middle" fill="#000000" font-family="Liberation Serif, serif">−0.41</text>
<text transform="translate(339.84,201.73) scale(0.85,1)" font-size="4.6" text-anchor="middle" fill="#000000" font-family="Liberation Serif, serif">(2e−07)</text>
<text transform="translate(379.61,197.63) scale(0.85,1)" font-size="4.6" text-anchor="middle" fill="#000000" font-family="Liberation Serif, serif">−0.25</text>
<text transform="translate(379.61,201.73) scale(0.85,1)" font-size="4.6" text-anchor="middle" fill="#000000" font-family="Liberation Serif, serif">(0.002)</text>
<text transform="translate(260.29,206.81) scale(0.85,1)" font-size="4.6" text-anchor="middle" fill="#000000" font-family="Liberation Serif, serif">0.053</text>
<text transform="translate(260.29,210.91) scale(0.85,1)" font-size="4.6" text-anchor="middle" fill="#000000" font-family="Liberation Serif, serif">(0.5)</text>
<text transform="translate(300.06,206.81) scale(0.85,1)" font-size="4.6" text-anchor="middle" fill="#000000" font-family="Liberation Serif, serif">−0.077</text>
<text transform="translate(300.06,210.91) scale(0.85,1)" font-size="4.6" text-anchor="middle" fill="#000000" font-family="Liberation Serif, serif">(0.4)</text>
<text transform="translate(339.84,206.81) scale(0.85,1)" font-size="4.6" text-anchor="middle" fill="#000000" font-family="Liberation Serif, serif">−0.051</text>
<text transform="translate(339.84,210.91) scale(0.85,1)" font-size="4.6" text-anchor="middle" fill="#000000" font-family="Liberation Serif, serif">(0.5)</text>
<text transform="translate(379.61,206.81) scale(0.85,1)" font-size="4.6" text-anchor="middle" fill="#000000" font-family="Liberation Serif, serif">−0.18</text>
<text transform="translate(379.61,210.91) scale(0.85,1)" font-size="4.6" text-anchor="middle" fill="#000000" font-family="Liberation Serif, serif">(0.03)</text>
<text transform="translate(260.29,216.00) scale(0.85,1)" font-size="4.6" text-anchor="middle" fill="#000000" font-family="Liberation Serif, serif">−0.066</text>
<text transform="translate(260.29,220.10) scale(0.85,1)" font-size="4.6" text-anchor="middle" fill="#000000" font-family="Liberation Serif, serif">(0.4)</text>
<text transform="translate(300.06,216.00) scale(0.85,1)" font-size="4.6" text-anchor="middle" fill="#000000" font-family="Liberation Serif, serif">−0.00098</text>
<text transform="translate(300.06,220.10) scale(0.85,1)" font-size="4.6" text-anchor="middle" fill="#000000" font-family="Liberation Serif, serif">(1)</text>
<text transform="translate(339.84,216.00) scale(0.85,1)" font-size="4.6" text-anchor="middle" fill="#000000" font-family="Liberation Serif, serif">0.0034</text>
<text transform="translate(339.84,220.10) scale(0.85,1)" font-size="4.6" text-anchor="middle" fill="#000000" font-family="Liberation Serif, serif">(1)</text>
<text transform="translate(379.61,216.00) scale(0.85,1)" font-size="4.6" text-anchor="middle" fill="#000000" font-family="Liberation Serif, serif">0.85</text>
<text transform="translate(379.61,220.10) scale(0.85,1)" font-size="4.6" text-anchor="middle" fill="#000000" font-family="Liberation Serif, serif">(3e−37)</text>
<text transform="translate(260.29,225.18) scale(0.85,1)" font-size="4.6" text-anchor="middle" fill="#000000" font-family="Liberation Serif, serif">−0.13</text>
<text transform="translate(260.29,229.28) scale(0.85,1)" font-size="4.6" text-anchor="middle" fill="#000000" font-family="Liberation Serif, serif">(0.1)</text>
<text transform="translate(300.06,225.18) scale(0.85,1)" font-size="4.6" text-anchor="middle" fill="#000000" font-family="Liberation Serif, serif">−0.097</text>
<text transform="translate(300.06,229.28) scale(0.85,1)" font-size="4.6" text-anchor="middle" fill="#000000" font-family="Liberation Serif, serif">(0.2)</text>
<text transform="translate(339.84,225.18) scale(0.85,1)" font-size="4.6" text-anchor="middle" fill="#000000" font-family="Liberation Serif, serif">−0.0067</text>
<text transform="translate(339.84,229.28) scale(0.85,1)" font-size="4.6" text-anchor="middle" fill="#000000" font-family="Liberation Serif, serif">(0.9)</text>
<text transform="translate(379.61,225.18) scale(0.85,1)" font-size="4.6" text-anchor="middle" fill="#000000" font-family="Liberation Serif, serif">0.43</text>
<text transform="translate(379.61,229.28) scale(0.85,1)" font-size="4.6" text-anchor="middle" fill="#000000" font-family="Liberation Serif, serif">(4e−13)</text>
<text transform="translate(260.29,234.36) scale(0.85,1)" font-size="4.6" text-anchor="middle" fill="#000000" font-family="Liberation Serif, serif">−0.12</text>
<text transform="translate(260.29,238.46) scale(0.85,1)" font-size="4.6" text-anchor="middle" fill="#000000" font-family="Liberation Serif, serif">(0.1)</text>
<text transform="translate(300.06,234.36) scale(0.85,1)" font-size="4.6" text-anchor="middle" fill="#000000" font-family="Liberation Serif, serif">−0.13</text>
<text transform="translate(300.06,238.46) scale(0.85,1)" font-size="4.6" text-anchor="middle" fill="#000000" font-family="Liberation Serif, serif">(0.1)</text>
<text transform="translate(339.84,234.36) scale(0.85,1)" font-size="4.6" text-anchor="middle" fill="#000000" font-family="Liberation Serif, serif">0.15</text>
<text transform="translate(339.84,238.46) scale(0.85,1)" font-size="4.6" text-anchor="middle" fill="#000000" font-family="Liberation Serif, serif">(0.07)</text>
<text transform="translate(379.61,234.36) scale(0.85,1)" font-size="4.6" text-anchor="middle" fill="#000000" font-family="Liberation Serif, serif">0.084</text>
<text transform="translate(379.61,238.46) scale(0.85,1)" font-size="4.6" text-anchor="middle" fill="#000000" font-family="Liberation Serif, serif">(0.3)</text>
<text transform="translate(260.29,243.54) scale(0.85,1)" font-size="4.6" text-anchor="middle" fill="#000000" font-family="Liberation Serif, serif">−0.066</text>
<text transform="translate(260.29,247.64) scale(0.85,1)" font-size="4.6" text-anchor="middle" fill="#000000" font-family="Liberation Serif, serif">(0.4)</text>
<text transform="translate(300.06,243.54) scale(0.85,1)" font-size="4.6" text-anchor="middle" fill="#000000" font-family="Liberation Serif, serif">−0.16</text>
<text transform="translate(300.06,247.64) scale(0.85,1)" font-size="4.6" text-anchor="middle" fill="#000000" font-family="Liberation Serif, serif">(0.05)</text>
<text transform="translate(339.84,243.54) scale(0.85,1)" font-size="4.6" text-anchor="middle" fill="#000000" font-family="Liberation Serif, serif">−0.06</text>
<text transform="translate(339.84,247.64) scale(0.85,1)" font-size="4.6" text-anchor="middle" fill="#000000" font-family="Liberation Serif, serif">(0.5)</text>
<text transform="translate(379.61,243.54) scale(0.85,1)" font-size="4.6" text-anchor="middle" fill="#000000" font-family="Liberation Serif, serif">−0.043</text>
<text transform="translate(379.61,247.64) scale(0.85,1)" font-size="4.6" text-anchor="middle" fill="#000000" font-family="Liberation Serif, serif">(0.6)</text>
<text transform="translate(260.29,252.73) scale(0.85,1)" font-size="4.6" text-anchor="middle" fill="#000000" font-family="Liberation Serif, serif">−0.12</text>
<text transform="translate(260.29,256.83) scale(0.85,1)" font-size="4.6" text-anchor="middle" fill="#000000" font-family="Liberation Serif, serif">(0.1)</text>
<text transform="translate(300.06,252.73) scale(0.85,1)" font-size="4.6" text-anchor="middle" fill="#000000" font-family="Liberation Serif, serif">−0.18</text>
<text transform="translate(300.06,256.83) scale(0.85,1)" font-size="4.6" text-anchor="middle" fill="#000000" font-family="Liberation Serif, serif">(0.03)</text>
<text transform="translate(339.84,252.73) scale(0.85,1)" font-size="4.6" text-anchor="middle" fill="#000000" font-family="Liberation Serif, serif">0.097</text>
<text transform="translate(339.84,256.83) scale(0.85,1)" font-size="4.6" text-anchor="middle" fill="#000000" font-family="Liberation Serif, serif">(0.2)</text>
<text transform="translate(379.61,252.73) scale(0.85,1)" font-size="4.6" text-anchor="middle" fill="#000000" font-family="Liberation Serif, serif">0.13</text>
<text transform="translate(379.61,256.83) scale(0.85,1)" font-size="4.6" text-anchor="middle" fill="#000000" font-family="Liberation Serif, serif">(0.1)</text>
<text transform="translate(260.29,261.91) scale(0.85,1)" font-size="4.6" text-anchor="middle" fill="#000000" font-family="Liberation Serif, serif">0.22</text>
<text transform="translate(260.29,266.01) scale(0.85,1)" font-size="4.6" text-anchor="middle" fill="#000000" font-family="Liberation Serif, serif">(0.007)</text>
<text transform="translate(300.06,261.91) scale(0.85,1)" font-size="4.6" text-anchor="middle" fill="#000000" font-family="Liberation Serif, serif">0.079</text>
<text transform="translate(300.06,266.01) scale(0.85,1)" font-size="4.6" text-anchor="middle" fill="#000000" font-family="Liberation Serif, serif">(0.3)</text>
<text transform="translate(339.84,261.91) scale(0.85,1)" font-size="4.6" text-anchor="middle" fill="#000000" font-family="Liberation Serif, serif">0.053</text>
<text transform="translate(339.84,266.01) scale(0.85,1)" font-size="4.6" text-anchor="middle" fill="#000000" font-family="Liberation Serif, serif">(0.5)</text>
<text transform="translate(379.61,261.91) scale(0.85,1)" font-size="4.6" text-anchor="middle" fill="#000000" font-family="Liberation Serif, serif">0.089</text>
<text transform="translate(379.61,266.01) scale(0.85,1)" font-size="4.6" text-anchor="middle" fill="#000000" font-family="Liberation Serif, serif">(0.3)</text>
<rect x="359.23" y="130.06" width="38.77" height="8.38" fill="none" stroke="#d63030" stroke-width="0.9"/>
<rect x="359.23" y="212.71" width="38.77" height="17.56" fill="none" stroke="#d63030" stroke-width="0.9"/>
<rect x="239.40" y="111.30" width="159.10" height="156.10" fill="none" stroke="#5e5e5e" stroke-width="1.5"/>
<text x="222.00" y="117.79" font-size="5.3" text-anchor="middle" fill="#151515" font-weight="normal" stroke="#151515" stroke-width="0.1">red</text>
<text x="222.00" y="126.97" font-size="5.3" text-anchor="middle" fill="#151515" font-weight="normal" stroke="#151515" stroke-width="0.1">greenyellow</text>
<text x="222.00" y="136.16" font-size="5.3" text-anchor="middle" fill="#e04040" font-weight="normal" >black</text>
<text x="222.00" y="145.34" font-size="5.3" text-anchor="middle" fill="#151515" font-weight="normal" stroke="#151515" stroke-width="0.1">pink</text>
<text x="222.00" y="154.52" font-size="5.3" text-anchor="middle" fill="#151515" font-weight="normal" stroke="#151515" stroke-width="0.1">cyan</text>
<text x="222.00" y="163.70" font-size="5.3" text-anchor="middle" fill="#151515" font-weight="normal" stroke="#151515" stroke-width="0.1">yellow</text>
<text x="222.00" y="172.89" font-size="5.3" text-anchor="middle" fill="#151515" font-weight="normal" stroke="#151515" stroke-width="0.1">lightcyan</text>
<text x="222.00" y="182.07" font-size="5.3" text-anchor="middle" fill="#151515" font-weight="normal" stroke="#151515" stroke-width="0.1">tan</text>
<text x="222.00" y="191.25" font-size="5.3" text-anchor="middle" fill="#151515" font-weight="normal" stroke="#151515" stroke-width="0.1">salmon</text>
<text x="222.00" y="200.43" font-size="5.3" text-anchor="middle" fill="#151515" font-weight="normal" stroke="#151515" stroke-width="0.1">blue</text>
<text x="222.00" y="209.61" font-size="5.3" text-anchor="middle" fill="#151515" font-weight="normal" stroke="#151515" stroke-width="0.1">midnightblue</text>
<text x="222.00" y="218.80" font-size="5.3" text-anchor="middle" fill="#e04040" font-weight="normal" >green</text>
<text x="222.00" y="227.98" font-size="5.3" text-anchor="middle" fill="#e04040" font-weight="normal" >purple</text>
<text x="222.00" y="237.16" font-size="5.3" text-anchor="middle" fill="#151515" font-weight="normal" stroke="#151515" stroke-width="0.1">turquoise</text>
<text x="222.00" y="246.34" font-size="5.3" text-anchor="middle" fill="#151515" font-weight="normal" stroke="#151515" stroke-width="0.1">brown</text>
<text x="222.00" y="255.53" font-size="5.3" text-anchor="middle" fill="#151515" font-weight="normal" stroke="#151515" stroke-width="0.1">magenta</text>
<text x="222.00" y="264.71" font-size="5.3" text-anchor="middle" fill="#151515" font-weight="normal" stroke="#151515" stroke-width="0.1">grey</text>
<text x="260.29" y="274.20" font-size="5.4" text-anchor="middle" fill="#111" font-weight="normal" stroke="#111" stroke-width="0.1">Gender</text>
<text x="300.06" y="274.20" font-size="5.4" text-anchor="middle" fill="#111" font-weight="normal" stroke="#111" stroke-width="0.1">Age</text>
<text x="339.84" y="274.20" font-size="5.4" text-anchor="middle" fill="#111" font-weight="normal" stroke="#111" stroke-width="0.1">Stage</text>
<text x="379.61" y="274.20" font-size="5.4" text-anchor="middle" fill="#111" font-weight="normal" stroke="#111" stroke-width="0.1">ImmuneScore</text>
<text x="310.50" y="108.60" font-size="6.0" text-anchor="middle" fill="#1a1a1a" font-weight="normal" >Module−trait relationships</text>
<linearGradient id="g913" x1="0" x2="1" y1="0" y2="0"><stop offset="0" stop-color="#d83a2a"/><stop offset="0.25" stop-color="#f09888"/><stop offset="0.5" stop-color="#ffffff"/><stop offset="0.75" stop-color="#88b0e0"/><stop offset="1" stop-color="#2a4e98"/></linearGradient>
<rect x="357.30" y="104.20" width="37.40" height="5.00" fill="url(#g913)" stroke="#333" stroke-width="0.6"/>
<line x1="357.30" y1="103.40" x2="357.30" y2="104.20" stroke="#333" stroke-width="0.5"/>
<text x="357.30" y="102.90" font-size="3.4" text-anchor="middle" fill="#222" font-weight="normal" >1</text>
<line x1="366.65" y1="103.40" x2="366.65" y2="104.20" stroke="#333" stroke-width="0.5"/>
<text x="366.65" y="102.90" font-size="3.4" text-anchor="middle" fill="#222" font-weight="normal" >0.5</text>
<line x1="376.00" y1="103.40" x2="376.00" y2="104.20" stroke="#333" stroke-width="0.5"/>
<text x="376.00" y="102.90" font-size="3.4" text-anchor="middle" fill="#222" font-weight="normal" >0</text>
<line x1="385.35" y1="103.40" x2="385.35" y2="104.20" stroke="#333" stroke-width="0.5"/>
<text x="385.35" y="102.90" font-size="3.4" text-anchor="middle" fill="#222" font-weight="normal" >−0.5</text>
<line x1="394.70" y1="103.40" x2="394.70" y2="104.20" stroke="#333" stroke-width="0.5"/>
<text x="394.70" y="102.90" font-size="3.4" text-anchor="middle" fill="#222" font-weight="normal" >−1</text>
</svg>
</body></html>
